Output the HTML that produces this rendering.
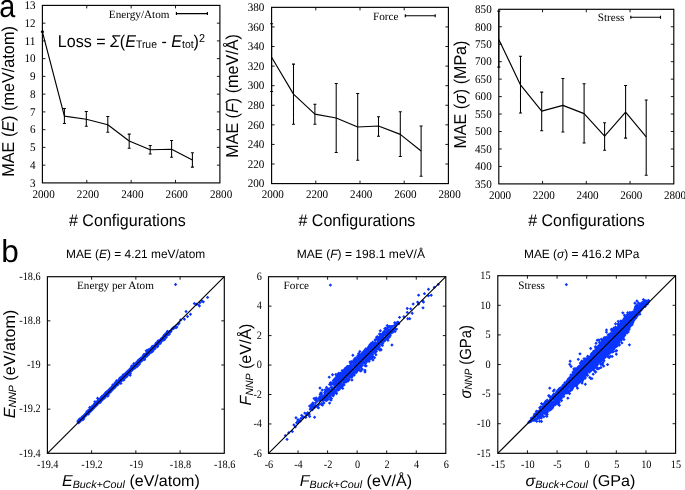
<!DOCTYPE html><html><head><meta charset="utf-8"><style>html,body{margin:0;padding:0;background:#fff;width:685px;height:490px;overflow:hidden}svg{display:block;text-rendering:geometricPrecision;will-change:transform}</style></head><body><svg width="685" height="490" viewBox="0 0 685 490"><path d="M86.78 182.9v-3.0M86.78 5.4v3.0M131.15 182.9v-3.0M131.15 5.4v3.0M175.53 182.9v-3.0M175.53 5.4v3.0M42.4 165.15h3.0M219.9 165.15h-3.0M42.4 147.40h3.0M219.9 147.40h-3.0M42.4 129.65h3.0M219.9 129.65h-3.0M42.4 111.90h3.0M219.9 111.90h-3.0M42.4 94.15h3.0M219.9 94.15h-3.0M42.4 76.40h3.0M219.9 76.40h-3.0M42.4 58.65h3.0M219.9 58.65h-3.0M42.4 40.90h3.0M219.9 40.90h-3.0M42.4 23.15h3.0M219.9 23.15h-3.0" stroke="#000" stroke-width="0.9" fill="none"/><rect x="42.4" y="5.4" width="177.50" height="177.50" fill="none" stroke="#000" stroke-width="1.15"/><text x="35.6" y="186.70" font-family='"Liberation Serif",serif' font-size="11.7" text-anchor="end" textLength="5.56" lengthAdjust="spacingAndGlyphs">3</text><text x="35.6" y="168.95" font-family='"Liberation Serif",serif' font-size="11.7" text-anchor="end" textLength="5.56" lengthAdjust="spacingAndGlyphs">4</text><text x="35.6" y="151.20" font-family='"Liberation Serif",serif' font-size="11.7" text-anchor="end" textLength="5.56" lengthAdjust="spacingAndGlyphs">5</text><text x="35.6" y="133.45" font-family='"Liberation Serif",serif' font-size="11.7" text-anchor="end" textLength="5.56" lengthAdjust="spacingAndGlyphs">6</text><text x="35.6" y="115.70" font-family='"Liberation Serif",serif' font-size="11.7" text-anchor="end" textLength="5.56" lengthAdjust="spacingAndGlyphs">7</text><text x="35.6" y="97.95" font-family='"Liberation Serif",serif' font-size="11.7" text-anchor="end" textLength="5.56" lengthAdjust="spacingAndGlyphs">8</text><text x="35.6" y="80.20" font-family='"Liberation Serif",serif' font-size="11.7" text-anchor="end" textLength="5.56" lengthAdjust="spacingAndGlyphs">9</text><text x="35.6" y="62.45" font-family='"Liberation Serif",serif' font-size="11.7" text-anchor="end" textLength="11.11" lengthAdjust="spacingAndGlyphs">10</text><text x="35.6" y="44.70" font-family='"Liberation Serif",serif' font-size="11.7" text-anchor="end" textLength="11.11" lengthAdjust="spacingAndGlyphs">11</text><text x="35.6" y="26.95" font-family='"Liberation Serif",serif' font-size="11.7" text-anchor="end" textLength="11.11" lengthAdjust="spacingAndGlyphs">12</text><text x="35.6" y="9.20" font-family='"Liberation Serif",serif' font-size="11.7" text-anchor="end" textLength="11.11" lengthAdjust="spacingAndGlyphs">13</text><text x="43.60" y="197.9" font-family='"Liberation Serif",serif' font-size="11.7" text-anchor="middle" textLength="22.23" lengthAdjust="spacingAndGlyphs">2000</text><text x="87.98" y="197.9" font-family='"Liberation Serif",serif' font-size="11.7" text-anchor="middle" textLength="22.23" lengthAdjust="spacingAndGlyphs">2200</text><text x="132.35" y="197.9" font-family='"Liberation Serif",serif' font-size="11.7" text-anchor="middle" textLength="22.23" lengthAdjust="spacingAndGlyphs">2400</text><text x="176.72" y="197.9" font-family='"Liberation Serif",serif' font-size="11.7" text-anchor="middle" textLength="22.23" lengthAdjust="spacingAndGlyphs">2600</text><text x="221.10" y="197.9" font-family='"Liberation Serif",serif' font-size="11.7" text-anchor="middle" textLength="22.23" lengthAdjust="spacingAndGlyphs">2800</text><path d="M42.4 31.8L64.4 116.1L86.3 119.2L107.8 124.7L129.2 141.0L150.2 149.8L171.6 149.2L192.4 160.0" stroke="#000" stroke-width="1.15" fill="none" stroke-linejoin="round"/><path d="M42.4 31.3V32.2M40.9 31.3h3M40.9 32.2h3M64.4 108.4V123.5M62.9 108.4h3M62.9 123.5h3M86.3 111.4V126.3M84.8 111.4h3M84.8 126.3h3M107.8 116.5V132.2M106.3 116.5h3M106.3 132.2h3M129.2 134.1V148.2M127.7 134.1h3M127.7 148.2h3M150.2 145.5V153.9M148.7 145.5h3M148.7 153.9h3M171.6 140.4V157.3M170.1 140.4h3M170.1 157.3h3M192.4 152.7V167.1M190.9 152.7h3M190.9 167.1h3" stroke="#000" stroke-width="1.05" fill="none"/><path d="M176.4 13.6H207.4M176.4 12.1v3M207.4 12.1v3" stroke="#000" stroke-width="1.15" fill="none"/><text x="169.5" y="17.9" font-family='"Liberation Serif",serif' font-size="11.2" text-anchor="end" >Energy/Atom</text><path d="M315.80 183.6v-3.0M315.80 7.35v3.0M360.00 183.6v-3.0M360.00 7.35v3.0M404.20 183.6v-3.0M404.20 7.35v3.0M271.6 164.02h3.0M448.4 164.02h-3.0M271.6 144.43h3.0M448.4 144.43h-3.0M271.6 124.85h3.0M448.4 124.85h-3.0M271.6 105.27h3.0M448.4 105.27h-3.0M271.6 85.68h3.0M448.4 85.68h-3.0M271.6 66.10h3.0M448.4 66.10h-3.0M271.6 46.52h3.0M448.4 46.52h-3.0M271.6 26.93h3.0M448.4 26.93h-3.0" stroke="#000" stroke-width="0.9" fill="none"/><rect x="271.6" y="7.35" width="176.80" height="176.25" fill="none" stroke="#000" stroke-width="1.15"/><text x="264.4" y="187.40" font-family='"Liberation Serif",serif' font-size="11.7" text-anchor="end" textLength="16.67" lengthAdjust="spacingAndGlyphs">200</text><text x="264.4" y="167.82" font-family='"Liberation Serif",serif' font-size="11.7" text-anchor="end" textLength="16.67" lengthAdjust="spacingAndGlyphs">220</text><text x="264.4" y="148.23" font-family='"Liberation Serif",serif' font-size="11.7" text-anchor="end" textLength="16.67" lengthAdjust="spacingAndGlyphs">240</text><text x="264.4" y="128.65" font-family='"Liberation Serif",serif' font-size="11.7" text-anchor="end" textLength="16.67" lengthAdjust="spacingAndGlyphs">260</text><text x="264.4" y="109.07" font-family='"Liberation Serif",serif' font-size="11.7" text-anchor="end" textLength="16.67" lengthAdjust="spacingAndGlyphs">280</text><text x="264.4" y="89.48" font-family='"Liberation Serif",serif' font-size="11.7" text-anchor="end" textLength="16.67" lengthAdjust="spacingAndGlyphs">300</text><text x="264.4" y="69.90" font-family='"Liberation Serif",serif' font-size="11.7" text-anchor="end" textLength="16.67" lengthAdjust="spacingAndGlyphs">320</text><text x="264.4" y="50.32" font-family='"Liberation Serif",serif' font-size="11.7" text-anchor="end" textLength="16.67" lengthAdjust="spacingAndGlyphs">340</text><text x="264.4" y="30.73" font-family='"Liberation Serif",serif' font-size="11.7" text-anchor="end" textLength="16.67" lengthAdjust="spacingAndGlyphs">360</text><text x="264.4" y="11.15" font-family='"Liberation Serif",serif' font-size="11.7" text-anchor="end" textLength="16.67" lengthAdjust="spacingAndGlyphs">380</text><text x="272.80" y="198.3" font-family='"Liberation Serif",serif' font-size="11.7" text-anchor="middle" textLength="22.23" lengthAdjust="spacingAndGlyphs">2000</text><text x="317.00" y="198.3" font-family='"Liberation Serif",serif' font-size="11.7" text-anchor="middle" textLength="22.23" lengthAdjust="spacingAndGlyphs">2200</text><text x="361.20" y="198.3" font-family='"Liberation Serif",serif' font-size="11.7" text-anchor="middle" textLength="22.23" lengthAdjust="spacingAndGlyphs">2400</text><text x="405.40" y="198.3" font-family='"Liberation Serif",serif' font-size="11.7" text-anchor="middle" textLength="22.23" lengthAdjust="spacingAndGlyphs">2600</text><text x="449.60" y="198.3" font-family='"Liberation Serif",serif' font-size="11.7" text-anchor="middle" textLength="22.23" lengthAdjust="spacingAndGlyphs">2800</text><path d="M271.6 57.3L293.5 94.1L314.9 114.1L336.2 118.0L357.7 127.0L378.5 126.0L400.3 134.4L421.1 151.0" stroke="#000" stroke-width="1.15" fill="none" stroke-linejoin="round"/><path d="M271.6 23.7V91.4M270.1 23.7h3M270.1 91.4h3M293.5 64.1V124.3M292.0 64.1h3M292.0 124.3h3M314.9 104.3V124.3M313.4 104.3h3M313.4 124.3h3M336.2 83.5V152.5M334.7 83.5h3M334.7 152.5h3M357.7 93.5V160.3M356.2 93.5h3M356.2 160.3h3M378.5 116.7V136.3M377.0 116.7h3M377.0 136.3h3M400.3 111.8V156.4M398.8 111.8h3M398.8 156.4h3M421.1 126.0V176.3M419.6 126.0h3M419.6 176.3h3" stroke="#000" stroke-width="1.05" fill="none"/><path d="M405.3 15.7H435.2M405.3 14.2v3M435.2 14.2v3" stroke="#000" stroke-width="1.15" fill="none"/><text x="398.4" y="19.8" font-family='"Liberation Serif",serif' font-size="11.2" text-anchor="end" >Force</text><path d="M542.55 183.9v-3.0M542.55 9.3v3.0M586.30 183.9v-3.0M586.30 9.3v3.0M630.05 183.9v-3.0M630.05 9.3v3.0M498.8 166.44h3.0M673.8 166.44h-3.0M498.8 148.98h3.0M673.8 148.98h-3.0M498.8 131.52h3.0M673.8 131.52h-3.0M498.8 114.06h3.0M673.8 114.06h-3.0M498.8 96.60h3.0M673.8 96.60h-3.0M498.8 79.14h3.0M673.8 79.14h-3.0M498.8 61.68h3.0M673.8 61.68h-3.0M498.8 44.22h3.0M673.8 44.22h-3.0M498.8 26.76h3.0M673.8 26.76h-3.0" stroke="#000" stroke-width="0.9" fill="none"/><rect x="498.8" y="9.3" width="175.00" height="174.60" fill="none" stroke="#000" stroke-width="1.15"/><text x="491.7" y="187.70" font-family='"Liberation Serif",serif' font-size="11.7" text-anchor="end" textLength="16.67" lengthAdjust="spacingAndGlyphs">350</text><text x="491.7" y="170.24" font-family='"Liberation Serif",serif' font-size="11.7" text-anchor="end" textLength="16.67" lengthAdjust="spacingAndGlyphs">400</text><text x="491.7" y="152.78" font-family='"Liberation Serif",serif' font-size="11.7" text-anchor="end" textLength="16.67" lengthAdjust="spacingAndGlyphs">450</text><text x="491.7" y="135.32" font-family='"Liberation Serif",serif' font-size="11.7" text-anchor="end" textLength="16.67" lengthAdjust="spacingAndGlyphs">500</text><text x="491.7" y="117.86" font-family='"Liberation Serif",serif' font-size="11.7" text-anchor="end" textLength="16.67" lengthAdjust="spacingAndGlyphs">550</text><text x="491.7" y="100.40" font-family='"Liberation Serif",serif' font-size="11.7" text-anchor="end" textLength="16.67" lengthAdjust="spacingAndGlyphs">600</text><text x="491.7" y="82.94" font-family='"Liberation Serif",serif' font-size="11.7" text-anchor="end" textLength="16.67" lengthAdjust="spacingAndGlyphs">650</text><text x="491.7" y="65.48" font-family='"Liberation Serif",serif' font-size="11.7" text-anchor="end" textLength="16.67" lengthAdjust="spacingAndGlyphs">700</text><text x="491.7" y="48.02" font-family='"Liberation Serif",serif' font-size="11.7" text-anchor="end" textLength="16.67" lengthAdjust="spacingAndGlyphs">750</text><text x="491.7" y="30.56" font-family='"Liberation Serif",serif' font-size="11.7" text-anchor="end" textLength="16.67" lengthAdjust="spacingAndGlyphs">800</text><text x="491.7" y="13.10" font-family='"Liberation Serif",serif' font-size="11.7" text-anchor="end" textLength="16.67" lengthAdjust="spacingAndGlyphs">850</text><text x="500.00" y="198.8" font-family='"Liberation Serif",serif' font-size="11.7" text-anchor="middle" textLength="22.23" lengthAdjust="spacingAndGlyphs">2000</text><text x="543.75" y="198.8" font-family='"Liberation Serif",serif' font-size="11.7" text-anchor="middle" textLength="22.23" lengthAdjust="spacingAndGlyphs">2200</text><text x="587.50" y="198.8" font-family='"Liberation Serif",serif' font-size="11.7" text-anchor="middle" textLength="22.23" lengthAdjust="spacingAndGlyphs">2400</text><text x="631.25" y="198.8" font-family='"Liberation Serif",serif' font-size="11.7" text-anchor="middle" textLength="22.23" lengthAdjust="spacingAndGlyphs">2600</text><text x="675.00" y="198.8" font-family='"Liberation Serif",serif' font-size="11.7" text-anchor="middle" textLength="22.23" lengthAdjust="spacingAndGlyphs">2800</text><path d="M498.8 39.4L520.5 84.9L541.7 111.1L562.9 105.4L584.1 113.6L604.6 136.1L625.6 112.1L646.2 136.9" stroke="#000" stroke-width="1.15" fill="none" stroke-linejoin="round"/><path d="M498.8 11.1V67.1M497.3 11.1h3M497.3 67.1h3M520.5 56.3V113.0M519.0 56.3h3M519.0 113.0h3M541.7 92.1V130.8M540.2 92.1h3M540.2 130.8h3M562.9 78.5V132.0M561.4 78.5h3M561.4 132.0h3M584.1 83.8V143.0M582.6 83.8h3M582.6 143.0h3M604.6 122.7V150.3M603.1 122.7h3M603.1 150.3h3M625.6 85.4V138.1M624.1 85.4h3M624.1 138.1h3M646.2 99.9V175.3M644.7 99.9h3M644.7 175.3h3" stroke="#000" stroke-width="1.05" fill="none"/><path d="M630.8 17.2H660.5M630.8 15.7v3M660.5 15.7v3" stroke="#000" stroke-width="1.15" fill="none"/><text x="624.4" y="21.3" font-family='"Liberation Serif",serif' font-size="11.2" text-anchor="end" >Stress</text><path d="M91.62 453.3v-3.0M91.62 276.7v3.0M135.85 453.3v-3.0M135.85 276.7v3.0M180.08 453.3v-3.0M180.08 276.7v3.0M47.4 409.15h3.0M224.3 409.15h-3.0M47.4 365.00h3.0M224.3 365.00h-3.0M47.4 320.85h3.0M224.3 320.85h-3.0" stroke="#000" stroke-width="0.9" fill="none"/><path transform="rotate(45)" d="M352.8 242.2h0M353.7 243.1h0M353.9 243.2h0M352.9 242.7h0M354.6 243.2h0M353.3 241.8h0M353.4 242.5h0M353.2 242.3h0M354.3 242.4h0M352.5 240.6h0M354.6 242.7h0M353.7 241.4h0M353.2 241.1h0M352.5 240.1h0M354.6 242.0h0M353.1 240.2h0M354.6 241.6h0M353.8 240.7h0M354.6 241.5h0M353.2 239.7h0M354.2 241.2h0M353.1 239.0h0M354.0 239.7h0M353.1 239.3h0M353.1 239.2h0M353.9 239.2h0M354.4 239.4h0M353.8 239.3h0M353.3 238.3h0M354.3 239.1h0M353.1 237.8h0M353.8 238.0h0M353.0 237.3h0M354.3 238.6h0M354.2 238.2h0M353.5 237.0h0M352.9 236.7h0M353.8 237.9h0M354.9 238.9h0M354.1 237.4h0M353.8 237.2h0M353.3 236.2h0M353.2 236.6h0M353.4 236.1h0M353.4 235.8h0M355.5 237.6h0M353.3 235.6h0M353.5 235.5h0M354.8 236.4h0M353.8 235.6h0M354.6 236.4h0M354.2 235.7h0M354.4 235.2h0M353.3 234.2h0M354.3 235.0h0M353.1 233.9h0M354.0 234.2h0M353.1 233.1h0M354.2 234.3h0M354.4 234.6h0M353.9 233.3h0M354.1 233.7h0M354.3 233.8h0M354.1 234.0h0M354.5 234.3h0M353.4 232.3h0M354.0 233.0h0M354.5 233.2h0M353.9 232.5h0M354.4 232.8h0M354.3 232.3h0M353.2 231.6h0M354.0 232.3h0M354.4 232.6h0M352.7 230.2h0M354.1 231.3h0M354.3 231.7h0M353.6 231.4h0M353.0 229.5h0M353.5 230.6h0M352.9 229.6h0M352.5 228.9h0M353.0 230.0h0M354.0 230.1h0M354.3 230.5h0M353.8 229.8h0M352.9 228.7h0M353.6 230.0h0M353.3 228.5h0M354.8 230.2h0M354.0 229.1h0M352.7 228.2h0M353.6 228.7h0M353.1 227.4h0M352.9 227.5h0M352.8 227.2h0M355.4 230.1h0M354.4 228.3h0M354.1 228.3h0M353.0 226.7h0M354.4 228.3h0M351.6 224.7h0M353.8 227.3h0M353.8 227.2h0M354.3 227.5h0M352.8 225.4h0M354.5 226.7h0M353.2 225.4h0M353.5 226.0h0M354.8 227.2h0M352.8 224.7h0M353.8 225.5h0M353.3 225.2h0M353.7 225.2h0M354.4 226.5h0M353.1 224.2h0M354.8 225.8h0M353.1 224.6h0M353.4 224.4h0M354.9 225.5h0M353.7 224.4h0M353.5 223.8h0M354.3 224.8h0M354.0 224.7h0M352.4 222.1h0M352.6 222.5h0M353.4 222.9h0M354.9 224.2h0M353.2 222.6h0M354.5 223.6h0M354.5 223.5h0M354.2 223.4h0M354.2 223.5h0M354.5 223.2h0M354.5 222.7h0M352.9 221.3h0M352.6 221.2h0M353.1 221.6h0M353.6 221.7h0M354.8 222.6h0M353.3 220.9h0M354.0 221.5h0M354.6 222.5h0M353.6 221.0h0M353.0 219.9h0M354.7 221.5h0M354.6 221.2h0M352.8 219.7h0M354.0 220.8h0M353.1 219.1h0M354.7 220.6h0M353.9 219.8h0M352.2 218.4h0M353.7 220.1h0M353.3 218.8h0M353.3 218.4h0M352.7 218.3h0M353.3 218.8h0M354.0 219.3h0M351.2 217.0h0M352.7 217.6h0M352.8 217.8h0M352.7 217.6h0M353.4 217.8h0M353.9 218.3h0M354.8 218.6h0M353.0 217.3h0M353.4 217.5h0M352.8 217.1h0M353.3 217.2h0M354.3 217.6h0M353.2 216.6h0M354.4 218.0h0M354.3 217.7h0M354.9 218.1h0M352.8 215.7h0M353.8 216.1h0M354.2 216.5h0M354.3 216.9h0M352.6 215.5h0M353.8 216.0h0M354.2 216.3h0M354.0 215.9h0M350.6 212.6h0M353.2 214.7h0M354.1 215.5h0M354.2 215.5h0M352.5 213.6h0M354.0 215.1h0M354.4 215.3h0M352.7 213.6h0M354.7 215.3h0M354.2 215.0h0M354.5 214.9h0M353.1 213.7h0M354.0 214.6h0M353.5 214.2h0M353.6 213.2h0M352.9 212.8h0M353.9 213.3h0M354.8 214.4h0M352.8 212.6h0M353.9 213.3h0M353.3 212.4h0M354.2 213.6h0M354.3 213.7h0M352.9 211.8h0M352.8 211.1h0M355.4 213.6h0M354.7 212.7h0M353.3 211.5h0M353.3 211.7h0M353.5 211.5h0M353.5 211.3h0M354.1 212.0h0M352.7 210.1h0M354.4 212.3h0M353.3 211.3h0M355.2 212.8h0M353.5 210.8h0M352.8 209.5h0M355.0 211.8h0M354.5 211.7h0M353.1 209.9h0M353.1 209.3h0M354.3 210.3h0M353.5 209.8h0M354.6 210.6h0M352.3 208.4h0M355.1 210.4h0M353.4 209.0h0M353.6 208.9h0M354.7 210.5h0M353.6 209.4h0M353.3 207.8h0M353.8 208.9h0M352.7 207.3h0M354.0 208.9h0M353.1 208.2h0M353.7 208.7h0M353.3 207.6h0M353.3 207.7h0M353.2 207.1h0M355.0 208.8h0M354.9 209.1h0M355.0 209.3h0M353.5 207.0h0M355.1 208.5h0M352.6 205.9h0M354.6 208.0h0M354.1 207.4h0M354.3 207.2h0M354.6 207.3h0M354.5 207.2h0M353.8 206.8h0M354.5 207.0h0M353.8 206.3h0M354.2 205.9h0M354.6 206.3h0M355.4 207.4h0M354.8 207.0h0M354.7 206.7h0M352.7 204.9h0M352.9 204.2h0M353.7 205.3h0M355.0 206.0h0M353.5 204.7h0M354.0 205.1h0M355.1 206.4h0M353.6 204.4h0M353.4 204.0h0M354.8 205.4h0M354.4 205.2h0M352.3 203.1h0M353.2 203.9h0M354.3 204.4h0M353.6 203.3h0M354.4 204.1h0M353.6 203.7h0M354.2 204.4h0M352.8 202.7h0M353.6 202.9h0M354.4 203.9h0M352.5 201.3h0M354.7 203.8h0M353.9 203.2h0M353.9 203.3h0M354.8 203.0h0M355.3 203.5h0M354.8 203.4h0M355.1 203.2h0M354.6 202.9h0M352.7 201.1h0M356.2 203.9h0M353.1 201.0h0M354.7 202.7h0M352.6 200.6h0M354.9 202.7h0M353.5 200.9h0M353.3 200.6h0M356.0 203.2h0M354.0 200.8h0M353.0 200.3h0M353.4 200.1h0M353.1 200.0h0M354.5 200.8h0M353.5 199.9h0M353.9 200.2h0M353.9 200.4h0M355.3 201.8h0M354.2 200.8h0M354.2 199.8h0M353.9 199.4h0M352.7 198.0h0M353.7 199.1h0M352.6 198.2h0M353.7 199.3h0M355.2 200.5h0M352.9 197.7h0M354.3 199.4h0M354.1 199.1h0M354.4 199.4h0M353.3 198.2h0M355.0 199.4h0M354.6 198.5h0M354.5 198.5h0M353.1 197.2h0M354.8 199.3h0M353.2 197.1h0M354.9 198.6h0M353.5 196.8h0M352.6 196.1h0M353.9 197.1h0M354.8 198.0h0M353.3 196.9h0M354.8 197.3h0M353.0 195.9h0M354.3 196.8h0M355.3 198.3h0M354.5 197.6h0M355.0 197.9h0M352.7 194.7h0M353.1 195.3h0M354.1 196.3h0M354.5 196.8h0M354.3 196.2h0M354.0 195.8h0M354.3 195.5h0M354.8 196.4h0M353.6 195.0h0M353.2 194.5h0M353.3 194.5h0M353.3 194.5h0M353.8 194.7h0M353.8 194.1h0M355.1 195.6h0M354.0 194.7h0M354.3 194.9h0M351.9 192.4h0M353.8 193.8h0M354.6 194.8h0M354.6 194.8h0M355.1 194.9h0M353.1 193.3h0M352.6 192.5h0M354.4 193.5h0M353.9 193.4h0M353.3 192.6h0M355.0 194.1h0M353.4 192.7h0M352.9 192.0h0M354.2 193.1h0M354.2 192.7h0M354.3 193.1h0M354.6 193.4h0M354.9 193.2h0M355.2 193.9h0M354.3 192.2h0M353.8 191.3h0M353.2 190.9h0M353.6 191.2h0M352.7 190.7h0M354.1 192.2h0M352.2 189.6h0M355.1 192.4h0M355.2 192.5h0M353.7 190.7h0M353.5 190.5h0M352.1 189.1h0M352.8 189.3h0M354.1 190.7h0M354.9 191.5h0M353.1 189.8h0M353.8 190.2h0M354.4 190.5h0M353.4 189.4h0M352.6 188.4h0M353.6 189.6h0M353.8 189.3h0M354.9 190.9h0M353.6 189.4h0M352.8 187.9h0M354.7 189.4h0M353.6 188.7h0M353.0 188.2h0M353.4 188.4h0M351.7 186.8h0M354.6 188.7h0M353.1 187.3h0M353.1 187.6h0M353.4 187.4h0M352.7 187.1h0M354.5 189.2h0M353.5 186.9h0M354.5 187.8h0M355.4 188.9h0M354.3 187.7h0M353.6 187.6h0M353.5 187.4h0M353.7 186.7h0M354.4 187.3h0M353.5 186.6h0M354.2 187.1h0M353.9 186.6h0M352.7 185.7h0M354.2 186.7h0M353.3 185.5h0M355.0 187.6h0M354.4 186.6h0M354.3 186.7h0M354.2 186.0h0M353.7 185.0h0M353.7 185.1h0M354.7 186.4h0M352.9 184.1h0M353.6 185.1h0M353.1 184.3h0M352.6 183.2h0M353.2 184.0h0M353.3 184.1h0M352.1 182.9h0M353.5 184.0h0M354.6 185.1h0M353.2 183.2h0M354.3 184.2h0M353.4 183.5h0M354.6 184.5h0M353.5 183.7h0M354.2 184.5h0M354.2 183.9h0M354.7 184.4h0M355.0 184.4h0M353.3 182.4h0M352.7 182.0h0M355.0 184.6h0M355.1 183.9h0M354.6 183.2h0M352.3 180.9h0M353.6 182.1h0M353.1 181.6h0M356.6 185.6h0M354.4 182.2h0M353.0 181.0h0M354.6 182.2h0M353.4 181.6h0M354.7 182.5h0M354.6 182.9h0M354.8 182.2h0M353.7 180.7h0M355.0 182.2h0M353.9 181.0h0M353.1 180.1h0M354.0 181.5h0M354.2 180.9h0M355.2 182.0h0M353.9 180.7h0M352.7 179.4h0M353.8 180.7h0M355.4 182.2h0M353.8 179.3h0M352.7 178.4h0M354.4 180.2h0M355.2 181.0h0M352.1 177.7h0M352.7 178.3h0M353.6 179.0h0M354.0 179.0h0M355.3 180.8h0M354.7 180.2h0M353.9 178.8h0M352.9 177.9h0M355.3 179.4h0M354.0 178.5h0M356.3 181.1h0M353.6 178.3h0M353.0 177.3h0M355.2 179.7h0M354.7 178.7h0M355.2 179.1h0M354.2 177.9h0M353.8 177.8h0M354.5 178.5h0M354.1 177.9h0M353.3 176.5h0M355.6 178.9h0M354.2 177.3h0M353.4 176.2h0M355.1 178.0h0M353.6 176.8h0M352.9 175.5h0M355.1 177.6h0M353.2 175.2h0M355.0 177.2h0M354.5 176.7h0M353.3 175.6h0M353.1 174.7h0M352.7 174.6h0M354.5 176.0h0M355.4 177.3h0M354.7 176.1h0M355.1 176.3h0M353.3 173.8h0M355.9 176.6h0M353.3 174.0h0M355.1 175.6h0M354.9 175.7h0M354.5 175.4h0M354.2 174.3h0M353.3 173.3h0M353.5 173.5h0M355.6 175.6h0M352.9 173.3h0M355.1 175.6h0M353.7 173.5h0M353.0 172.2h0M355.5 174.6h0M355.3 175.0h0M352.8 172.5h0M353.6 173.1h0M354.4 173.0h0M353.0 171.6h0M353.0 171.6h0M353.3 172.3h0M353.4 172.4h0M353.5 172.1h0M354.8 173.1h0M353.1 171.2h0M354.7 172.8h0M354.2 172.4h0M355.5 173.7h0M353.5 171.7h0M353.0 170.4h0M352.8 170.1h0M353.9 171.3h0M354.6 171.7h0M353.8 171.0h0M354.1 171.7h0M355.2 171.6h0M355.9 172.5h0M353.7 170.6h0M355.4 171.9h0M354.3 171.1h0M353.7 170.2h0M354.0 170.1h0M357.4 173.3h0M353.6 169.6h0M354.5 170.3h0M354.5 170.5h0M354.1 170.2h0M353.8 169.1h0M353.1 168.2h0M354.0 169.2h0M353.3 168.3h0M354.0 169.0h0M356.2 171.8h0M353.3 167.9h0M354.9 169.4h0M355.1 169.7h0M354.1 168.9h0M355.1 169.7h0M352.8 167.5h0M352.0 165.9h0M354.6 168.7h0M353.0 167.1h0M353.9 167.7h0M352.7 166.2h0M353.9 168.0h0M353.0 166.1h0M352.4 165.6h0M355.2 168.2h0M353.0 166.4h0M354.1 166.9h0M354.4 167.4h0M355.0 167.4h0M353.5 166.0h0M353.9 166.5h0M353.9 166.3h0M355.1 167.5h0M353.1 165.8h0M353.6 165.5h0M354.8 166.5h0M353.8 165.5h0M354.4 165.8h0M354.4 165.8h0M354.4 166.2h0M354.2 165.3h0M352.9 163.7h0M355.0 166.1h0M353.8 164.8h0M354.6 165.7h0M354.6 165.9h0M353.3 163.3h0M354.9 165.1h0M351.7 162.4h0M355.4 165.6h0M353.3 163.4h0M352.7 163.3h0M355.0 164.2h0M354.9 164.6h0M353.9 163.6h0M354.8 164.7h0M355.1 165.0h0M354.5 164.0h0M354.5 163.0h0M353.9 162.4h0M355.7 164.6h0M353.9 162.8h0M355.7 164.6h0M354.7 163.3h0M354.9 162.8h0M354.4 162.8h0M354.4 162.8h0M354.4 162.5h0M354.4 162.3h0M355.1 163.3h0M353.4 160.8h0M354.1 161.4h0M354.8 162.0h0M354.5 162.0h0M355.2 162.6h0M354.9 162.4h0M353.5 160.4h0M352.9 160.0h0M355.5 162.3h0M353.6 160.1h0M354.3 161.3h0M354.9 161.6h0M356.2 162.0h0M355.5 161.4h0M355.2 161.1h0M353.4 159.3h0M352.7 159.1h0M353.4 159.6h0M353.5 158.9h0M354.6 160.1h0M353.7 158.8h0M354.0 159.3h0M352.8 158.0h0M352.8 158.0h0M354.3 159.0h0M355.4 160.1h0M353.2 157.5h0M353.8 158.6h0M353.9 158.8h0M354.4 158.7h0M355.3 158.9h0M353.8 158.0h0M354.4 158.6h0M355.4 158.9h0M354.3 158.2h0M352.6 156.8h0M354.8 158.0h0M352.9 156.2h0M355.6 158.8h0M353.7 157.2h0M353.9 157.0h0M356.1 159.0h0M354.5 157.3h0M353.2 155.6h0M355.3 157.8h0M353.0 155.2h0M354.9 157.1h0M353.7 155.8h0M353.0 154.7h0M352.9 154.5h0M354.8 156.3h0M352.8 154.7h0M354.4 156.1h0M353.2 154.4h0M355.3 156.5h0M353.5 154.8h0M353.8 154.9h0M354.3 155.3h0M354.9 156.2h0M353.7 154.3h0M354.6 154.8h0M352.9 153.6h0M354.0 154.5h0M353.8 153.8h0M353.8 153.9h0M355.1 154.6h0M354.5 154.3h0M355.2 154.7h0M353.9 153.9h0M354.6 154.6h0M355.3 155.3h0M355.5 154.2h0M354.9 154.1h0M354.0 153.2h0M355.4 154.1h0M353.6 152.6h0M353.8 152.3h0M353.3 151.9h0M353.9 152.4h0M354.3 152.6h0M353.4 151.4h0M352.9 150.6h0M354.8 152.0h0M355.1 152.6h0M354.5 151.8h0M353.3 150.6h0M355.1 152.3h0M352.9 149.6h0M355.0 152.0h0M353.4 150.5h0M354.7 151.3h0M352.8 149.7h0M353.5 150.5h0M354.6 150.9h0M355.4 151.7h0M354.4 150.5h0M355.5 151.7h0M355.6 152.0h0M352.4 148.8h0M354.9 150.5h0M355.7 151.4h0M354.8 150.4h0M356.5 152.0h0M353.2 148.6h0M354.5 149.2h0M353.1 147.7h0M354.7 149.4h0M354.1 148.5h0M354.2 149.2h0M354.5 149.4h0M354.4 148.5h0M354.2 147.9h0M353.5 147.6h0M353.4 147.4h0M355.3 149.5h0M351.4 144.6h0M354.5 147.7h0M353.5 146.6h0M354.3 147.3h0M353.6 147.1h0M354.0 146.4h0M355.7 148.2h0M353.4 145.7h0M354.0 146.4h0M355.5 147.8h0M355.6 147.2h0M351.9 143.6h0M354.0 145.8h0M353.3 145.3h0M354.8 146.4h0M353.2 144.9h0M353.4 144.7h0M355.2 146.3h0M354.0 144.8h0M352.2 143.6h0M353.7 144.7h0M355.4 145.9h0M355.0 145.5h0M354.6 145.2h0M353.0 143.7h0M354.4 145.2h0M354.0 143.7h0M355.7 145.7h0M354.9 144.9h0M352.4 142.0h0M355.0 144.7h0M353.9 142.6h0M354.9 144.2h0M355.0 144.0h0M355.1 144.0h0M354.6 143.5h0M354.3 142.7h0M354.7 142.8h0M354.5 143.0h0M354.1 142.5h0M353.0 141.3h0M355.0 142.5h0M354.3 142.2h0M354.0 142.0h0M355.7 143.4h0M354.6 142.0h0M353.8 140.4h0M355.3 142.4h0M354.1 141.0h0M355.2 141.9h0M354.0 140.8h0M353.8 140.8h0M355.2 141.5h0M355.5 141.8h0M355.5 141.8h0M353.0 138.9h0M355.0 141.1h0M355.3 140.8h0M354.7 140.2h0M356.2 141.7h0M355.5 141.2h0M354.7 140.1h0M354.5 139.4h0M355.7 140.8h0M354.9 139.5h0M353.9 138.8h0M352.6 137.2h0M353.1 138.1h0M353.9 138.2h0M355.2 139.5h0M354.1 138.2h0M354.8 138.9h0M353.9 137.7h0M356.3 140.0h0M355.8 139.3h0M355.2 138.3h0M355.0 138.7h0M354.3 137.6h0M354.5 137.4h0M354.9 137.9h0M355.5 138.5h0M353.4 135.8h0M355.3 138.3h0M355.0 137.2h0M354.9 137.2h0M353.8 135.7h0M354.7 136.8h0M355.3 137.5h0M355.6 136.9h0M354.8 136.3h0M353.8 135.3h0M355.4 136.8h0M354.9 135.9h0M355.3 136.1h0M354.0 134.3h0M356.1 136.8h0M354.9 135.8h0M354.7 135.3h0M354.6 134.2h0M353.3 132.9h0M354.8 135.0h0M355.2 135.0h0M353.8 133.8h0M353.7 133.0h0M353.0 132.3h0M354.4 133.7h0M354.5 133.4h0M355.0 134.3h0M354.0 132.4h0M354.5 133.0h0M353.2 131.7h0M355.1 133.5h0M353.1 131.9h0M353.5 131.2h0M354.0 131.5h0M354.4 132.0h0M353.2 131.1h0M356.3 133.8h0M353.4 130.6h0M353.7 130.7h0M356.5 133.5h0M355.1 132.4h0M354.5 131.6h0M352.8 129.1h0M355.2 131.5h0M355.7 132.2h0M354.3 130.5h0M354.7 131.0h0M354.9 130.9h0M355.2 131.1h0M354.0 129.8h0M355.4 130.9h0M354.3 129.8h0M354.9 130.2h0M354.4 129.7h0M353.8 128.4h0M354.9 129.6h0M355.0 129.9h0M355.4 129.6h0M355.0 129.4h0M353.8 127.7h0M355.7 129.6h0M353.7 128.2h0M356.1 129.4h0M355.1 128.5h0M354.5 128.0h0M354.3 127.9h0M355.9 129.7h0M354.8 127.7h0M354.5 127.0h0M353.8 126.6h0M354.2 127.2h0M355.2 128.3h0M354.6 126.5h0M354.4 126.4h0M353.5 125.4h0M355.6 128.0h0M355.5 127.2h0M354.2 125.5h0M353.9 125.6h0M353.6 125.2h0M354.6 125.5h0M354.7 125.5h0M354.4 125.1h0M354.8 125.9h0M355.4 125.1h0M355.0 125.1h0M354.3 124.4h0M354.8 124.8h0M355.2 125.4h0M354.3 123.5h0M355.5 125.0h0M355.9 125.0h0M353.6 122.7h0M355.6 123.9h0M355.4 123.6h0M354.2 122.5h0M353.2 121.3h0M354.4 122.5h0M354.4 122.2h0M355.5 123.1h0M355.3 122.5h0M356.5 123.8h0M353.1 120.4h0M353.9 121.4h0M355.2 121.5h0M355.2 121.8h0M353.7 119.9h0M355.0 120.9h0M355.6 121.4h0M354.9 120.3h0M354.3 120.3h0M356.1 121.0h0M355.0 119.9h0M355.5 120.9h0M354.7 119.6h0M355.0 119.4h0M353.2 117.9h0M354.7 119.2h0M354.3 117.8h0M355.1 118.6h0M352.7 116.0h0M355.5 118.0h0M353.2 116.0h0M353.5 115.9h0M355.2 117.4h0M354.9 116.3h0M354.5 115.8h0M356.0 116.6h0M354.3 114.4h0M355.3 114.1h0M355.1 113.3h0M354.4 111.7h0M354.2 110.4h0M354.9 109.7h0M354.7 109.0h0M354.5 108.6h0M355.4 108.1h0M355.0 106.3h0M356.2 107.1h0M356.3 106.3h0M355.3 103.2h0M355.1 101.8h0M354.0 98.5h0M356.1 95.3h0M356.4 91.3h0M356.3 75.2h0M355.4 72.6h0M357.1 63.5h0M357.2 69.7h0M355.7 70.0h0M357.4 75.3h0M354.0 76.2h0M352.0 77.2h0M356.9 87.5h0M356.4 91.2h0M351.8 88.7h0M325.3 77.0h0" stroke="#0a34ff" stroke-width="2.4" stroke-linecap="square" fill="none"/><text x="77" y="288.9" font-family='"Liberation Serif",serif' font-size="11.2" text-anchor="start" >Energy per Atom</text><path d="M47.4 453.3L224.3 276.7" stroke="#000" stroke-width="1.15"/><rect x="47.4" y="276.7" width="176.90" height="176.60" fill="none" stroke="#000" stroke-width="1.15"/><text x="40.6" y="456.60" font-family='"Liberation Serif",serif' font-size="11.4" text-anchor="end" textLength="21.37" lengthAdjust="spacingAndGlyphs">-19.4</text><text x="47.80" y="468.2" font-family='"Liberation Serif",serif' font-size="11.4" text-anchor="middle" textLength="21.37" lengthAdjust="spacingAndGlyphs">-19.4</text><text x="40.6" y="412.45" font-family='"Liberation Serif",serif' font-size="11.4" text-anchor="end" textLength="21.37" lengthAdjust="spacingAndGlyphs">-19.2</text><text x="92.03" y="468.2" font-family='"Liberation Serif",serif' font-size="11.4" text-anchor="middle" textLength="21.37" lengthAdjust="spacingAndGlyphs">-19.2</text><text x="40.6" y="368.30" font-family='"Liberation Serif",serif' font-size="11.4" text-anchor="end" textLength="13.68" lengthAdjust="spacingAndGlyphs">-19</text><text x="136.25" y="468.2" font-family='"Liberation Serif",serif' font-size="11.4" text-anchor="middle" textLength="13.68" lengthAdjust="spacingAndGlyphs">-19</text><text x="40.6" y="324.15" font-family='"Liberation Serif",serif' font-size="11.4" text-anchor="end" textLength="21.37" lengthAdjust="spacingAndGlyphs">-18.8</text><text x="180.48" y="468.2" font-family='"Liberation Serif",serif' font-size="11.4" text-anchor="middle" textLength="21.37" lengthAdjust="spacingAndGlyphs">-18.8</text><text x="40.6" y="280.00" font-family='"Liberation Serif",serif' font-size="11.4" text-anchor="end" textLength="21.37" lengthAdjust="spacingAndGlyphs">-18.6</text><text x="224.70" y="468.2" font-family='"Liberation Serif",serif' font-size="11.4" text-anchor="middle" textLength="21.37" lengthAdjust="spacingAndGlyphs">-18.6</text><path d="M298.05 453.4v-3.0M298.05 276.7v3.0M327.60 453.4v-3.0M327.60 276.7v3.0M357.15 453.4v-3.0M357.15 276.7v3.0M386.70 453.4v-3.0M386.70 276.7v3.0M416.25 453.4v-3.0M416.25 276.7v3.0M268.5 423.95h3.0M445.8 423.95h-3.0M268.5 394.50h3.0M445.8 394.50h-3.0M268.5 365.05h3.0M445.8 365.05h-3.0M268.5 335.60h3.0M445.8 335.60h-3.0M268.5 306.15h3.0M445.8 306.15h-3.0" stroke="#000" stroke-width="0.9" fill="none"/><path transform="rotate(45)" d="M508.7 89.2h0M509.3 88.1h0M507.5 86.0h0M509.4 85.5h0M510.0 85.5h0M508.7 83.0h0M507.1 80.4h0M509.0 81.8h0M510.6 78.7h0M511.3 78.9h0M510.1 76.1h0M509.7 75.5h0M509.5 74.3h0M511.3 75.2h0M511.6 74.2h0M506.1 68.2h0M508.7 70.0h0M506.4 66.8h0M507.1 66.9h0M508.0 66.8h0M510.0 68.9h0M510.6 68.8h0M507.0 65.7h0M506.2 63.6h0M508.4 65.6h0M508.7 64.8h0M510.6 66.2h0M509.6 64.6h0M505.6 59.9h0M509.7 64.0h0M508.0 61.8h0M510.6 63.6h0M505.0 57.9h0M506.8 59.0h0M507.5 59.1h0M508.1 59.3h0M512.1 62.8h0M512.6 63.4h0M513.6 63.2h0M507.4 56.4h0M507.2 56.5h0M511.6 60.3h0M507.3 56.1h0M506.6 54.0h0M506.9 54.5h0M505.2 52.4h0M509.7 57.2h0M504.7 51.1h0M509.3 55.5h0M505.1 51.5h0M504.9 50.7h0M513.0 58.7h0M509.6 55.4h0M506.0 51.3h0M508.2 53.3h0M512.8 57.8h0M509.8 54.0h0M503.7 48.0h0M514.5 58.5h0M511.2 54.7h0M508.3 52.2h0M510.2 53.4h0M511.9 54.6h0M511.9 54.9h0M509.7 52.4h0M511.7 54.0h0M514.0 56.0h0M509.4 51.5h0M511.2 52.9h0M511.4 52.9h0M508.8 50.5h0M510.6 52.1h0M509.0 49.5h0M507.1 47.6h0M507.3 48.1h0M505.5 45.7h0M507.9 48.1h0M507.0 46.8h0M509.7 48.8h0M511.3 50.3h0M512.4 51.5h0M509.3 48.4h0M513.9 52.7h0M510.4 49.3h0M512.2 50.5h0M513.5 51.8h0M504.8 43.0h0M511.1 48.7h0M514.1 51.8h0M511.8 49.3h0M511.4 48.5h0M510.2 47.7h0M507.7 44.7h0M510.5 47.7h0M508.8 45.6h0M507.0 43.6h0M514.3 50.9h0M507.3 44.1h0M508.1 43.7h0M512.4 48.5h0M514.3 50.4h0M507.3 43.0h0M509.4 44.3h0M510.1 45.1h0M509.8 44.6h0M510.2 45.1h0M511.5 45.8h0M499.5 33.9h0M508.1 42.6h0M507.8 42.3h0M508.9 42.8h0M511.7 45.7h0M504.9 38.7h0M518.1 52.0h0M514.4 47.7h0M510.3 43.4h0M513.0 46.1h0M511.3 44.5h0M504.3 37.0h0M512.8 45.4h0M506.1 38.1h0M510.8 42.9h0M516.2 48.3h0M515.4 47.6h0M517.0 48.9h0M507.9 39.6h0M511.9 43.4h0M516.2 47.4h0M505.0 36.7h0M505.7 36.5h0M512.5 43.0h0M513.4 44.2h0M511.8 43.0h0M512.3 43.2h0M506.4 36.5h0M512.6 42.6h0M513.2 43.1h0M510.4 40.5h0M514.5 44.7h0M506.7 36.0h0M510.3 40.0h0M506.4 35.8h0M500.1 29.8h0M509.4 38.8h0M510.1 39.1h0M515.2 44.0h0M512.7 41.5h0M504.9 33.6h0M515.5 44.1h0M512.0 39.8h0M506.4 34.2h0M514.2 41.9h0M514.8 43.1h0M505.1 33.4h0M505.5 33.3h0M511.6 39.1h0M510.6 37.8h0M513.7 41.3h0M508.2 35.6h0M513.5 41.0h0M504.7 32.3h0M506.9 33.3h0M510.9 37.5h0M509.0 35.8h0M506.0 32.6h0M512.9 39.2h0M507.8 33.9h0M504.7 30.2h0M513.7 39.8h0M505.9 31.7h0M506.1 31.9h0M511.1 36.2h0M510.1 35.5h0M508.5 34.0h0M502.3 27.4h0M510.8 35.8h0M505.2 29.9h0M515.7 40.0h0M514.3 39.0h0M516.2 40.4h0M504.8 29.4h0M508.2 31.8h0M509.8 33.5h0M513.8 37.8h0M510.1 33.7h0M505.2 29.0h0M508.5 32.1h0M505.5 28.9h0M513.9 37.0h0M511.3 34.3h0M507.7 30.7h0M507.1 30.0h0M509.4 32.8h0M506.2 28.2h0M510.8 33.4h0M510.8 33.2h0M513.6 36.3h0M504.8 26.9h0M512.5 34.3h0M509.3 30.6h0M514.9 36.7h0M506.9 28.7h0M503.4 25.2h0M511.8 33.4h0M511.4 32.6h0M513.2 34.3h0M509.7 30.9h0M513.5 34.1h0M503.6 24.3h0M505.1 26.0h0M510.2 30.5h0M515.2 35.2h0M508.7 29.1h0M506.1 26.3h0M508.9 29.1h0M507.7 27.8h0M509.3 28.9h0M511.0 30.2h0M506.6 26.1h0M507.1 26.4h0M506.8 26.4h0M512.5 32.3h0M511.4 30.1h0M512.2 31.1h0M514.6 33.6h0M506.8 25.6h0M508.7 27.3h0M507.2 26.0h0M514.2 32.5h0M509.6 27.4h0M504.8 23.0h0M505.5 23.6h0M506.0 24.2h0M505.1 23.2h0M508.5 26.2h0M515.2 32.5h0M510.2 27.6h0M514.3 31.8h0M512.1 29.7h0M514.0 31.1h0M513.8 30.1h0M508.1 24.8h0M514.1 30.9h0M510.6 27.6h0M511.3 28.0h0M505.5 22.3h0M510.6 27.2h0M507.2 23.5h0M509.4 25.6h0M510.3 26.3h0M504.0 20.1h0M515.2 31.0h0M507.4 23.3h0M511.1 26.4h0M509.4 24.9h0M510.9 26.2h0M517.0 32.3h0M510.0 25.2h0M505.2 20.1h0M506.5 21.3h0M508.5 23.1h0M504.8 19.7h0M509.9 24.8h0M512.9 27.1h0M506.4 20.7h0M505.8 19.8h0M506.8 20.4h0M509.3 23.2h0M506.7 20.8h0M514.6 28.4h0M505.1 19.2h0M515.4 28.9h0M505.5 18.7h0M505.0 18.1h0M507.1 20.5h0M512.9 26.3h0M511.9 25.1h0M506.0 18.8h0M511.4 23.6h0M511.4 24.1h0M510.7 23.1h0M511.1 23.7h0M513.5 26.0h0M508.9 21.2h0M508.7 20.3h0M510.3 21.9h0M512.9 24.7h0M510.1 22.2h0M509.9 21.9h0M513.5 25.4h0M504.6 16.4h0M507.3 18.6h0M512.7 23.9h0M512.6 23.7h0M506.0 17.3h0M514.0 25.3h0M504.8 15.5h0M512.8 23.0h0M512.9 23.6h0M510.0 20.2h0M507.8 17.9h0M510.2 20.8h0M511.4 21.7h0M513.6 23.1h0M509.6 19.2h0M510.7 19.9h0M505.7 15.3h0M511.1 20.6h0M504.8 14.4h0M512.0 21.1h0M508.0 16.6h0M511.4 20.3h0M511.9 20.7h0M509.4 18.0h0M513.5 22.3h0M504.8 13.8h0M507.6 15.9h0M514.8 23.0h0M515.5 23.4h0M514.0 22.4h0M514.6 23.1h0M511.0 19.1h0M508.6 16.9h0M511.7 19.0h0M505.2 13.0h0M508.1 15.5h0M514.6 22.0h0M511.5 18.8h0M508.4 16.0h0M509.5 16.9h0M512.8 19.6h0M509.0 15.7h0M509.6 16.4h0M510.8 17.6h0M505.8 12.9h0M509.7 16.8h0M506.4 12.5h0M506.1 12.3h0M515.4 21.7h0M512.5 18.4h0M508.6 15.0h0M506.3 12.5h0M506.6 12.3h0M514.3 19.7h0M514.1 19.2h0M511.0 16.0h0M508.1 13.8h0M512.7 18.0h0M509.8 15.5h0M511.8 16.3h0M503.5 8.3h0M507.3 12.0h0M510.8 15.6h0M510.3 15.1h0M512.7 17.2h0M511.5 15.4h0M505.0 8.9h0M506.5 10.7h0M504.8 8.9h0M510.8 14.7h0M506.0 9.8h0M513.1 17.0h0M504.8 8.0h0M513.6 16.6h0M510.4 13.9h0M514.7 18.2h0M511.3 14.2h0M506.7 10.0h0M507.6 11.1h0M507.7 10.1h0M507.1 9.9h0M510.3 12.7h0M504.4 7.1h0M515.1 17.9h0M514.0 16.3h0M509.2 11.7h0M508.4 10.3h0M511.0 13.0h0M513.9 15.8h0M512.3 14.5h0M515.4 17.5h0M511.2 12.9h0M512.8 14.7h0M510.6 11.7h0M500.7 1.7h0M514.5 15.7h0M512.4 13.3h0M508.1 9.2h0M511.1 12.5h0M511.2 12.4h0M515.0 15.3h0M507.9 8.5h0M506.2 6.8h0M510.5 11.2h0M515.0 15.3h0M514.7 15.2h0M512.7 13.0h0M512.6 12.4h0M514.3 13.9h0M513.9 13.9h0M513.0 12.6h0M504.8 4.3h0M511.5 11.3h0M505.3 4.9h0M511.6 10.3h0M507.9 7.3h0M506.1 4.8h0M515.7 14.6h0M513.9 13.1h0M508.6 7.3h0M509.3 8.2h0M513.9 12.1h0M509.4 7.7h0M512.6 10.7h0M508.9 6.9h0M511.1 9.5h0M504.6 2.8h0M511.8 10.0h0M508.4 6.2h0M507.9 5.3h0M513.2 10.9h0M510.3 7.7h0M507.7 5.4h0M504.5 1.9h0M504.7 2.3h0M508.7 5.5h0M507.0 4.2h0M509.8 6.9h0M509.5 6.5h0M511.2 8.0h0M511.3 8.4h0M514.6 11.3h0M510.9 6.8h0M506.8 3.1h0M505.5 1.9h0M514.7 10.8h0M508.3 4.3h0M514.1 10.6h0M515.3 11.7h0M515.2 10.5h0M511.6 7.4h0M512.6 8.4h0M511.3 6.9h0M510.7 6.5h0M508.5 3.7h0M509.7 5.0h0M510.9 5.6h0M507.7 2.8h0M512.9 7.3h0M514.7 9.7h0M511.7 6.7h0M508.4 3.1h0M506.7 1.8h0M508.4 2.8h0M513.4 7.2h0M504.7 -1.0h0M506.1 0.1h0M511.1 5.2h0M514.5 8.7h0M508.0 2.4h0M514.5 7.8h0M505.4 -1.0h0M510.7 4.1h0M510.6 4.1h0M507.0 0.3h0M504.9 -1.8h0M512.4 5.6h0M503.7 -3.5h0M507.7 0.2h0M505.3 -1.9h0M514.1 6.7h0M515.1 7.4h0M508.8 1.4h0M505.4 -1.9h0M509.9 2.2h0M509.3 1.4h0M513.3 5.0h0M510.6 2.7h0M506.6 -1.7h0M512.4 4.4h0M513.4 5.5h0M507.0 -2.1h0M507.3 -1.6h0M503.0 -5.9h0M512.8 4.0h0M509.0 0.5h0M509.9 1.3h0M509.9 1.4h0M506.0 -3.6h0M514.0 4.4h0M512.7 3.1h0M516.9 7.5h0M509.6 0.2h0M511.4 1.8h0M513.5 4.2h0M514.2 4.2h0M510.1 -0.2h0M517.5 7.0h0M514.8 4.8h0M508.1 -2.3h0M511.6 1.1h0M509.9 -0.4h0M505.9 -5.1h0M510.9 0.2h0M505.8 -5.0h0M513.0 2.0h0M510.5 -0.7h0M514.0 2.9h0M512.9 1.9h0M511.4 -0.2h0M510.6 -1.0h0M509.7 -1.6h0M509.5 -2.2h0M509.2 -2.2h0M505.9 -5.9h0M508.4 -3.1h0M514.6 2.6h0M511.3 -1.3h0M508.8 -3.4h0M517.2 4.9h0M505.9 -6.2h0M512.2 -0.1h0M514.1 2.0h0M506.0 -6.9h0M509.8 -2.9h0M510.5 -2.6h0M509.6 -3.1h0M508.5 -4.5h0M508.6 -4.7h0M508.6 -4.2h0M511.9 -1.8h0M505.9 -7.8h0M512.5 -1.0h0M507.7 -5.8h0M507.1 -6.5h0M507.5 -6.3h0M513.6 0.1h0M507.0 -7.7h0M511.0 -3.3h0M510.6 -4.0h0M509.5 -4.6h0M506.4 -7.7h0M508.4 -6.3h0M509.7 -4.4h0M507.6 -7.4h0M510.0 -5.5h0M507.2 -8.3h0M505.6 -9.6h0M514.0 -1.2h0M510.7 -4.7h0M507.2 -8.0h0M519.9 3.8h0M514.8 -1.1h0M506.6 -9.1h0M509.4 -6.5h0M513.9 -2.1h0M508.4 -7.2h0M515.2 -1.3h0M505.8 -11.0h0M509.9 -6.4h0M511.8 -4.7h0M510.9 -5.4h0M515.4 -1.3h0M516.8 0.4h0M513.9 -3.1h0M514.3 -3.2h0M513.4 -4.2h0M508.2 -9.2h0M512.2 -5.2h0M511.1 -6.5h0M505.4 -12.0h0M508.6 -9.5h0M512.7 -5.5h0M515.1 -3.0h0M513.5 -4.5h0M508.2 -9.5h0M517.7 -0.2h0M510.0 -9.0h0M509.5 -9.4h0M514.6 -4.0h0M506.1 -12.5h0M515.1 -3.6h0M506.9 -11.9h0M506.5 -13.0h0M510.6 -8.7h0M513.5 -5.5h0M509.8 -9.5h0M514.0 -5.2h0M512.9 -6.7h0M512.9 -6.4h0M507.6 -12.3h0M508.1 -11.7h0M507.4 -12.9h0M506.3 -13.8h0M514.7 -5.0h0M506.6 -13.5h0M509.3 -11.1h0M508.4 -12.7h0M507.7 -12.8h0M508.3 -12.6h0M512.8 -8.1h0M514.9 -5.6h0M510.5 -10.2h0M509.1 -12.3h0M515.8 -5.7h0M515.7 -5.5h0M515.8 -5.6h0M505.9 -15.7h0M508.4 -13.0h0M511.0 -10.3h0M516.5 -5.5h0M510.2 -12.1h0M514.7 -7.3h0M506.6 -15.3h0M507.6 -14.5h0M515.3 -6.6h0M511.1 -11.5h0M512.5 -10.1h0M510.8 -12.2h0M508.4 -14.8h0M515.6 -7.6h0M511.8 -11.4h0M505.5 -17.3h0M514.3 -8.9h0M515.3 -8.5h0M512.8 -11.0h0M515.3 -8.6h0M511.3 -12.3h0M508.6 -14.7h0M512.1 -11.3h0M509.7 -14.4h0M506.0 -18.5h0M505.2 -19.4h0M509.7 -14.9h0M511.7 -12.8h0M509.0 -15.0h0M510.7 -14.1h0M508.6 -16.2h0M514.9 -10.2h0M512.2 -12.6h0M510.1 -15.1h0M509.7 -15.6h0M514.9 -11.1h0M515.9 -9.5h0M511.5 -14.5h0M514.1 -11.5h0M511.2 -14.5h0M507.7 -17.7h0M505.5 -20.4h0M512.1 -14.3h0M513.3 -13.3h0M510.2 -16.4h0M511.1 -15.3h0M510.7 -15.9h0M508.5 -18.1h0M508.1 -18.2h0M515.5 -11.6h0M509.3 -17.8h0M505.6 -21.5h0M510.4 -16.9h0M505.8 -21.1h0M509.0 -18.3h0M509.8 -18.4h0M512.5 -15.6h0M512.6 -15.5h0M509.8 -17.8h0M512.6 -15.2h0M507.0 -20.9h0M507.0 -21.0h0M512.4 -16.3h0M507.6 -20.6h0M513.0 -15.6h0M507.3 -21.6h0M507.6 -20.7h0M511.1 -17.2h0M510.9 -18.7h0M511.0 -18.3h0M510.1 -19.3h0M508.8 -20.8h0M509.3 -20.2h0M510.6 -18.5h0M517.7 -11.9h0M509.6 -20.5h0M512.0 -17.9h0M511.4 -18.6h0M514.3 -15.7h0M514.3 -15.9h0M512.6 -17.5h0M506.0 -24.8h0M513.0 -17.8h0M507.6 -23.0h0M510.1 -20.7h0M511.4 -19.1h0M510.7 -19.8h0M512.4 -19.1h0M509.2 -22.4h0M512.6 -18.9h0M516.7 -15.0h0M511.2 -20.0h0M511.1 -20.2h0M512.8 -19.3h0M508.9 -23.3h0M511.3 -21.0h0M509.4 -22.4h0M514.6 -17.6h0M509.5 -22.4h0M511.2 -21.4h0M506.0 -26.7h0M510.6 -22.5h0M504.7 -27.9h0M513.5 -19.0h0M511.4 -21.3h0M507.0 -26.8h0M505.0 -28.9h0M510.0 -23.3h0M509.5 -24.0h0M509.9 -23.6h0M509.5 -24.1h0M507.6 -26.9h0M506.7 -27.5h0M510.1 -24.4h0M508.9 -25.4h0M506.0 -27.9h0M511.1 -23.2h0M514.1 -20.9h0M509.0 -26.0h0M511.6 -23.0h0M513.2 -21.9h0M511.7 -23.4h0M513.7 -21.3h0M512.3 -23.6h0M507.5 -27.8h0M510.0 -25.6h0M508.0 -27.6h0M507.7 -27.7h0M507.3 -28.3h0M507.4 -29.3h0M510.9 -25.5h0M506.7 -29.3h0M504.5 -32.1h0M511.9 -24.2h0M513.4 -23.1h0M507.8 -29.1h0M506.9 -30.2h0M516.0 -21.1h0M510.1 -27.0h0M507.7 -29.6h0M512.2 -24.7h0M510.3 -27.2h0M508.6 -28.8h0M506.1 -31.9h0M509.3 -28.5h0M502.8 -35.0h0M510.9 -27.1h0M508.6 -29.7h0M510.4 -28.0h0M508.5 -29.8h0M509.0 -29.4h0M516.2 -22.3h0M505.7 -32.7h0M508.9 -30.3h0M508.1 -30.9h0M507.9 -31.0h0M508.4 -30.5h0M511.7 -27.5h0M511.8 -27.3h0M508.4 -31.1h0M509.5 -30.5h0M507.1 -32.7h0M509.2 -30.7h0M513.6 -26.3h0M512.4 -27.5h0M507.9 -33.0h0M506.3 -34.3h0M508.2 -32.5h0M507.0 -33.2h0M514.7 -26.1h0M513.6 -26.7h0M508.4 -33.1h0M511.7 -29.3h0M509.7 -31.7h0M508.9 -32.2h0M513.4 -27.8h0M509.3 -32.3h0M510.9 -31.4h0M511.2 -31.0h0M508.1 -34.0h0M505.9 -36.4h0M512.3 -29.8h0M511.0 -30.9h0M507.8 -34.7h0M510.5 -32.5h0M509.9 -32.5h0M512.6 -30.5h0M506.5 -36.1h0M512.8 -30.9h0M506.1 -37.5h0M511.7 -31.6h0M508.5 -34.8h0M506.5 -36.6h0M513.1 -31.0h0M512.3 -31.5h0M507.8 -36.0h0M504.5 -39.7h0M511.2 -32.7h0M512.0 -33.2h0M508.8 -35.9h0M508.7 -36.4h0M512.4 -32.7h0M511.5 -33.3h0M512.5 -32.9h0M508.6 -36.6h0M504.8 -40.7h0M511.5 -33.7h0M507.2 -38.5h0M506.1 -40.3h0M511.2 -35.0h0M512.9 -33.6h0M511.4 -34.8h0M508.9 -37.9h0M512.4 -34.9h0M507.2 -39.9h0M512.7 -34.0h0M513.3 -34.4h0M506.0 -41.8h0M504.0 -43.6h0M512.1 -35.5h0M507.0 -40.9h0M510.7 -37.9h0M508.7 -39.6h0M514.9 -33.8h0M513.4 -35.0h0M506.1 -43.1h0M513.0 -36.2h0M508.3 -40.5h0M508.1 -40.9h0M511.3 -38.6h0M508.5 -41.0h0M509.3 -40.2h0M511.4 -38.0h0M511.6 -38.9h0M513.7 -37.0h0M511.0 -39.3h0M506.1 -44.6h0M509.9 -41.6h0M512.4 -39.0h0M513.3 -38.2h0M508.8 -42.3h0M511.0 -40.9h0M509.0 -43.1h0M513.0 -38.8h0M511.9 -40.8h0M509.4 -43.1h0M507.3 -45.2h0M511.2 -42.4h0M509.3 -43.8h0M511.9 -41.4h0M511.3 -42.8h0M507.8 -46.2h0M512.3 -42.1h0M512.4 -42.5h0M511.1 -43.3h0M511.9 -43.6h0M510.9 -44.8h0M508.3 -46.8h0M510.6 -45.3h0M512.1 -43.9h0M512.7 -43.3h0M511.2 -45.7h0M511.2 -45.6h0M511.0 -46.8h0M509.0 -48.9h0M507.3 -50.8h0M511.9 -46.3h0M511.8 -47.0h0M513.8 -45.0h0M510.3 -49.4h0M509.1 -50.7h0M508.5 -51.7h0M513.1 -47.7h0M509.4 -52.4h0M509.1 -53.5h0M509.7 -53.7h0M510.9 -52.9h0M509.8 106.2h0M513.7 107.7h0M510.2 101.8h0M511.8 98.4h0M508.3 92.6h0M510.7 93.0h0M508.3 87.0h0M504.7 86.1h0M509.0 86.3h0M509.3 80.4h0M507.6 76.6h0M509.4 75.5h0M513.5 75.5h0M517.5 72.6h0M503.8 59.6h0M508.3 68.2h0M506.3 64.8h0M506.9 -58.1h0M509.6 -61.6h0M513.7 -63.0h0M515.1 -64.4h0M513.0 -69.9h0M508.9 -67.1h0M506.1 -69.9h0M508.8 -72.0h0M507.1 -77.2h0M508.9 -81.7h0M511.0 -81.0h0M512.0 -86.2h0M513.1 -85.8h0M516.8 -81.4h0M504.7 -87.3h0M507.8 -92.5h0M512.0 -93.8h0M513.7 -96.2h0M507.5 -98.4h0M510.3 -103.9h0M511.0 -108.8h0M511.8 3.8h0M505.6 -24.7h0M513.9 -13.0h0M521.1 4.9h0M518.3 -9.2h0M500.6 48.1h0M504.5 29.3h0M517.6 19.8h0M514.8 25.5h0M508.8 -42.1h0M521.1 -33.2h0M516.9 -21.9h0M435.2 -32.0h0" stroke="#0a34ff" stroke-width="2.4" stroke-linecap="square" fill="none"/><text x="283.6" y="288.7" font-family='"Liberation Serif",serif' font-size="11.2" text-anchor="start" >Force</text><path d="M268.5 453.4L445.8 276.7" stroke="#000" stroke-width="1.15"/><rect x="268.5" y="276.7" width="177.30" height="176.70" fill="none" stroke="#000" stroke-width="1.15"/><text x="262.0" y="456.70" font-family='"Liberation Serif",serif' font-size="11.4" text-anchor="end" textLength="8.55" lengthAdjust="spacingAndGlyphs">-6</text><text x="268.90" y="468.2" font-family='"Liberation Serif",serif' font-size="11.4" text-anchor="middle" textLength="8.55" lengthAdjust="spacingAndGlyphs">-6</text><text x="262.0" y="427.25" font-family='"Liberation Serif",serif' font-size="11.4" text-anchor="end" textLength="8.55" lengthAdjust="spacingAndGlyphs">-4</text><text x="298.45" y="468.2" font-family='"Liberation Serif",serif' font-size="11.4" text-anchor="middle" textLength="8.55" lengthAdjust="spacingAndGlyphs">-4</text><text x="262.0" y="397.80" font-family='"Liberation Serif",serif' font-size="11.4" text-anchor="end" textLength="8.55" lengthAdjust="spacingAndGlyphs">-2</text><text x="328.00" y="468.2" font-family='"Liberation Serif",serif' font-size="11.4" text-anchor="middle" textLength="8.55" lengthAdjust="spacingAndGlyphs">-2</text><text x="262.0" y="368.35" font-family='"Liberation Serif",serif' font-size="11.4" text-anchor="end" textLength="5.13" lengthAdjust="spacingAndGlyphs">0</text><text x="357.55" y="468.2" font-family='"Liberation Serif",serif' font-size="11.4" text-anchor="middle" textLength="5.13" lengthAdjust="spacingAndGlyphs">0</text><text x="262.0" y="338.90" font-family='"Liberation Serif",serif' font-size="11.4" text-anchor="end" textLength="5.13" lengthAdjust="spacingAndGlyphs">2</text><text x="387.10" y="468.2" font-family='"Liberation Serif",serif' font-size="11.4" text-anchor="middle" textLength="5.13" lengthAdjust="spacingAndGlyphs">2</text><text x="262.0" y="309.45" font-family='"Liberation Serif",serif' font-size="11.4" text-anchor="end" textLength="5.13" lengthAdjust="spacingAndGlyphs">4</text><text x="416.65" y="468.2" font-family='"Liberation Serif",serif' font-size="11.4" text-anchor="middle" textLength="5.13" lengthAdjust="spacingAndGlyphs">4</text><text x="262.0" y="280.00" font-family='"Liberation Serif",serif' font-size="11.4" text-anchor="end" textLength="5.13" lengthAdjust="spacingAndGlyphs">6</text><text x="446.20" y="468.2" font-family='"Liberation Serif",serif' font-size="11.4" text-anchor="middle" textLength="5.13" lengthAdjust="spacingAndGlyphs">6</text><path d="M527.43 453.3v-3.0M527.43 275.7v3.0M557.07 453.3v-3.0M557.07 275.7v3.0M586.70 453.3v-3.0M586.70 275.7v3.0M616.33 453.3v-3.0M616.33 275.7v3.0M645.97 453.3v-3.0M645.97 275.7v3.0M497.8 423.70h3.0M675.6 423.70h-3.0M497.8 394.10h3.0M675.6 394.10h-3.0M497.8 364.50h3.0M675.6 364.50h-3.0M497.8 334.90h3.0M675.6 334.90h-3.0M497.8 305.30h3.0M675.6 305.30h-3.0" stroke="#000" stroke-width="0.9" fill="none"/><path transform="rotate(45)" d="M672.5 -75.4h0M672.7 -75.9h0M672.6 -76.6h0M672.5 -78.0h0M673.1 -77.2h0M673.5 -77.2h0M673.0 -77.7h0M671.4 -80.1h0M673.4 -78.6h0M673.3 -78.9h0M672.4 -79.8h0M673.0 -80.5h0M672.5 -80.6h0M673.2 -80.0h0M673.4 -80.4h0M674.1 -79.8h0M671.8 -83.0h0M674.3 -80.3h0M672.0 -83.4h0M672.6 -82.9h0M670.9 -84.9h0M675.2 -80.8h0M672.1 -84.4h0M672.4 -84.0h0M672.4 -84.7h0M673.4 -84.0h0M675.0 -82.4h0M671.5 -86.6h0M671.9 -85.8h0M671.2 -87.0h0M672.9 -85.9h0M677.4 -81.5h0M670.1 -88.5h0M671.1 -88.6h0M673.9 -85.4h0M673.3 -86.3h0M676.1 -84.0h0M671.9 -88.3h0M671.8 -88.2h0M671.3 -89.1h0M671.6 -89.6h0M675.0 -86.2h0M675.3 -85.7h0M671.7 -89.4h0M676.5 -85.2h0M674.5 -86.9h0M673.6 -88.4h0M673.3 -89.1h0M673.0 -89.1h0M672.4 -90.2h0M672.8 -89.8h0M676.0 -86.7h0M677.0 -86.3h0M675.2 -88.0h0M677.0 -85.9h0M670.0 -93.4h0M671.2 -92.8h0M672.4 -91.0h0M676.3 -87.3h0M675.1 -89.7h0M673.5 -90.7h0M674.4 -89.9h0M670.6 -94.7h0M678.3 -87.1h0M673.9 -91.1h0M670.1 -94.8h0M668.3 -97.5h0M673.3 -92.3h0M676.6 -89.3h0M675.3 -90.3h0M674.4 -91.9h0M675.6 -91.2h0M671.2 -95.5h0M677.4 -89.5h0M674.0 -93.2h0M675.3 -92.1h0M674.4 -93.2h0M671.7 -95.6h0M675.7 -91.3h0M676.4 -91.8h0M675.2 -92.5h0M671.3 -96.4h0M671.5 -96.8h0M674.6 -93.1h0M674.9 -93.8h0M673.8 -95.2h0M671.2 -97.3h0M672.7 -95.8h0M670.5 -98.0h0M673.7 -96.0h0M679.3 -89.9h0M674.0 -95.1h0M674.5 -94.8h0M676.4 -93.1h0M670.6 -99.5h0M670.1 -99.8h0M675.2 -95.0h0M675.2 -95.0h0M677.0 -93.2h0M671.8 -98.8h0M676.3 -94.8h0M672.9 -97.9h0M674.4 -96.5h0M670.7 -99.8h0M678.6 -92.9h0M677.5 -94.0h0M670.2 -101.0h0M669.7 -102.0h0M677.4 -94.5h0M677.1 -95.1h0M676.9 -95.4h0M678.0 -94.2h0M673.1 -99.4h0M673.0 -99.1h0M674.2 -98.8h0M674.1 -98.9h0M675.4 -97.7h0M681.1 -92.2h0M671.5 -101.7h0M670.3 -103.4h0M670.0 -103.8h0M677.0 -97.0h0M669.9 -104.0h0M680.0 -93.9h0M678.5 -95.9h0M673.4 -101.0h0M671.8 -102.3h0M672.4 -102.2h0M672.6 -101.5h0M672.0 -103.4h0M674.0 -101.2h0M673.7 -101.2h0M675.0 -99.8h0M677.3 -97.5h0M674.2 -101.6h0M676.8 -99.3h0M672.3 -103.2h0M672.1 -103.4h0M667.8 -108.2h0M673.6 -102.9h0M674.3 -102.1h0M672.9 -103.9h0M674.0 -102.6h0M674.6 -101.7h0M668.4 -108.5h0M672.3 -104.8h0M676.0 -100.8h0M678.5 -98.6h0M674.2 -103.1h0M670.2 -108.0h0M671.9 -105.9h0M678.8 -99.0h0M675.1 -102.8h0M677.6 -100.4h0M675.2 -102.7h0M670.1 -108.6h0M672.7 -106.1h0M678.2 -100.0h0M671.7 -107.0h0M675.3 -103.5h0M673.1 -105.5h0M679.0 -100.3h0M677.4 -102.1h0M672.0 -107.6h0M672.8 -106.4h0M671.7 -107.5h0M673.9 -105.4h0M674.8 -105.5h0M674.8 -104.9h0M677.2 -102.5h0M674.8 -105.1h0M672.6 -107.3h0M671.5 -109.3h0M676.8 -103.7h0M674.5 -106.1h0M679.1 -101.6h0M674.7 -105.8h0M679.1 -101.9h0M672.9 -108.3h0M670.9 -110.7h0M671.7 -110.0h0M675.7 -105.9h0M678.9 -102.5h0M678.4 -103.2h0M675.9 -106.4h0M676.9 -105.0h0M670.6 -111.8h0M672.7 -109.4h0M671.9 -110.6h0M672.0 -110.4h0M670.4 -112.2h0M672.8 -110.2h0M667.8 -114.8h0M678.4 -104.3h0M675.5 -107.3h0M678.0 -104.6h0M672.8 -110.8h0M670.5 -112.9h0M673.6 -109.6h0M671.2 -112.1h0M676.7 -107.0h0M673.4 -110.5h0M671.2 -113.3h0M667.7 -116.2h0M678.1 -106.1h0M674.6 -110.0h0M676.7 -107.5h0M676.4 -108.1h0M672.7 -112.3h0M676.6 -108.2h0M674.9 -109.8h0M671.2 -113.9h0M671.8 -113.3h0M677.2 -107.8h0M678.8 -106.7h0M671.1 -114.9h0M677.8 -108.1h0M678.2 -107.7h0M675.6 -110.3h0M673.8 -111.6h0M675.9 -110.4h0M672.1 -114.2h0M673.4 -113.4h0M676.2 -109.9h0M676.6 -109.9h0M671.7 -114.7h0M674.1 -112.0h0M673.5 -113.8h0M678.5 -108.9h0M670.7 -116.7h0M673.2 -113.5h0M672.8 -114.2h0M676.5 -110.3h0M677.8 -109.7h0M677.7 -110.4h0M675.2 -112.2h0M671.6 -116.2h0M678.6 -108.8h0M676.8 -110.7h0M676.5 -111.6h0M671.4 -116.9h0M673.5 -115.1h0M673.7 -115.0h0M674.9 -113.9h0M676.9 -111.6h0M670.4 -118.4h0M675.3 -114.3h0M675.6 -113.5h0M673.2 -116.1h0M674.0 -115.1h0M680.6 -108.9h0M671.0 -117.9h0M677.6 -112.3h0M674.8 -115.3h0M672.4 -117.4h0M676.1 -114.1h0M676.8 -113.1h0M670.6 -119.3h0M678.0 -111.8h0M672.2 -118.3h0M674.0 -116.3h0M680.0 -110.7h0M677.7 -113.2h0M673.2 -117.1h0M678.5 -111.7h0M678.6 -112.4h0M682.1 -108.9h0M676.2 -114.9h0M670.3 -120.8h0M671.2 -120.0h0M671.0 -120.1h0M673.3 -118.3h0M670.9 -121.4h0M677.1 -114.9h0M677.8 -114.3h0M677.3 -115.0h0M672.6 -119.1h0M674.8 -117.3h0M671.2 -120.7h0M672.9 -119.8h0M671.8 -121.0h0M674.1 -118.6h0M678.2 -114.7h0M671.4 -121.4h0M673.6 -119.0h0M676.8 -116.1h0M673.6 -119.8h0M671.8 -121.9h0M671.2 -122.3h0M673.7 -119.9h0M670.8 -122.4h0M674.5 -118.8h0M676.6 -117.2h0M678.4 -115.5h0M674.1 -119.9h0M676.5 -117.8h0M671.5 -122.7h0M680.1 -113.9h0M675.3 -118.7h0M680.3 -113.7h0M677.5 -117.6h0M674.4 -120.7h0M676.5 -118.4h0M673.9 -121.1h0M672.6 -121.9h0M675.3 -119.7h0M677.8 -117.3h0M676.6 -118.7h0M673.4 -122.0h0M671.3 -124.5h0M674.1 -121.1h0M674.8 -120.7h0M677.6 -117.6h0M677.3 -118.2h0M674.5 -121.6h0M672.1 -124.5h0M673.7 -122.3h0M676.9 -119.2h0M670.9 -125.3h0M677.2 -119.4h0M670.5 -125.6h0M673.0 -124.3h0M676.5 -120.6h0M679.0 -118.3h0M675.6 -121.6h0M675.9 -121.2h0M676.6 -120.4h0M675.5 -121.3h0M674.1 -123.9h0M670.8 -126.9h0M677.2 -120.4h0M676.9 -120.7h0M672.3 -125.7h0M676.6 -120.7h0M677.6 -120.0h0M673.7 -124.8h0M671.5 -127.1h0M673.4 -124.8h0M670.9 -127.6h0M674.1 -124.4h0M672.0 -126.2h0M671.2 -127.0h0M677.3 -122.0h0M676.7 -122.4h0M670.1 -128.9h0M671.4 -127.4h0M671.4 -127.7h0M674.5 -124.9h0M673.6 -125.4h0M677.3 -122.0h0M672.4 -127.8h0M671.4 -128.5h0M673.8 -126.2h0M673.6 -126.3h0M674.1 -125.5h0M676.2 -123.4h0M673.6 -126.4h0M671.1 -128.7h0M672.3 -128.5h0M674.9 -125.9h0M673.4 -127.3h0M677.9 -122.5h0M674.6 -126.2h0M672.9 -127.4h0M673.4 -127.2h0M674.7 -126.2h0M678.0 -123.1h0M676.8 -124.1h0M678.4 -122.9h0M670.8 -130.4h0M675.0 -126.6h0M676.3 -125.0h0M671.2 -130.1h0M678.6 -123.1h0M675.9 -125.8h0M672.1 -129.8h0M678.8 -123.1h0M673.2 -129.0h0M675.2 -126.7h0M675.8 -126.3h0M672.3 -129.8h0M671.7 -131.0h0M674.2 -128.2h0M670.3 -132.1h0M677.6 -125.4h0M671.1 -131.4h0M670.6 -131.9h0M671.0 -131.7h0M678.6 -123.9h0M677.6 -125.5h0M683.1 -120.0h0M675.2 -128.1h0M674.9 -128.1h0M673.7 -129.5h0M677.4 -125.7h0M675.0 -128.7h0M672.8 -130.2h0M673.5 -130.8h0M670.1 -134.0h0M669.9 -134.0h0M676.1 -128.3h0M675.0 -129.0h0M678.7 -125.6h0M675.3 -129.1h0M679.4 -125.0h0M673.4 -131.4h0M679.3 -125.6h0M675.0 -129.7h0M671.7 -133.2h0M672.9 -132.1h0M674.2 -130.6h0M675.9 -128.9h0M676.3 -128.2h0M674.0 -131.8h0M670.1 -135.5h0M669.8 -135.5h0M674.5 -130.8h0M670.4 -135.0h0M681.1 -124.4h0M672.2 -133.1h0M670.3 -135.1h0M672.3 -133.1h0M679.0 -126.9h0M676.6 -129.5h0M672.6 -133.3h0M679.1 -126.9h0M671.2 -134.9h0M674.6 -131.9h0M672.8 -133.2h0M679.5 -126.5h0M672.1 -134.7h0M670.7 -136.3h0M676.8 -130.3h0M677.4 -129.8h0M679.2 -127.9h0M672.5 -134.1h0M677.1 -130.1h0M676.9 -130.1h0M672.1 -135.0h0M676.2 -131.1h0M668.8 -138.5h0M673.0 -134.3h0M675.3 -132.4h0M672.4 -135.4h0M670.4 -137.6h0M679.0 -128.3h0M673.6 -134.4h0M675.7 -131.7h0M677.8 -130.8h0M677.6 -130.8h0M677.4 -130.6h0M674.4 -133.7h0M670.7 -137.4h0M673.6 -134.5h0M670.9 -137.3h0M672.3 -136.0h0M677.6 -130.4h0M677.5 -131.7h0M671.1 -138.1h0M680.0 -128.8h0M677.7 -131.5h0M672.9 -136.1h0M677.0 -132.1h0M672.2 -136.7h0M679.4 -129.6h0M673.8 -134.9h0M676.6 -132.5h0M669.6 -139.9h0M679.3 -130.8h0M672.9 -137.0h0M670.2 -139.6h0M675.6 -134.0h0M676.1 -133.8h0M675.9 -134.1h0M679.1 -130.3h0M672.5 -137.4h0M669.7 -140.3h0M678.7 -131.6h0M674.9 -135.3h0M674.0 -136.2h0M668.2 -142.5h0M677.5 -133.2h0M675.5 -134.6h0M668.8 -141.8h0M675.3 -134.9h0M671.5 -138.9h0M676.0 -134.9h0M671.9 -139.3h0M670.1 -140.7h0M677.0 -134.4h0M678.0 -133.2h0M674.9 -136.2h0M675.9 -135.0h0M674.4 -136.4h0M675.2 -136.1h0M670.7 -141.1h0M673.8 -138.3h0M666.7 -144.9h0M673.0 -138.7h0M674.0 -137.6h0M671.1 -140.4h0M678.8 -133.1h0M666.7 -145.3h0M672.0 -140.1h0M671.9 -140.6h0M675.2 -137.1h0M674.3 -138.2h0M676.1 -136.6h0M673.6 -139.1h0M668.9 -143.4h0M676.1 -136.2h0M678.9 -133.3h0M673.1 -139.3h0M676.2 -136.3h0M677.1 -135.8h0M674.4 -139.1h0M675.4 -137.6h0M671.5 -142.0h0M672.4 -141.0h0M671.7 -141.5h0M673.6 -139.9h0M674.0 -139.5h0M673.0 -140.1h0M678.0 -136.0h0M673.4 -140.4h0M679.0 -135.2h0M669.0 -144.7h0M676.2 -137.6h0M670.4 -143.3h0M667.8 -146.3h0M674.2 -139.8h0M670.4 -143.3h0M675.3 -138.8h0M676.5 -137.9h0M670.9 -144.0h0M677.7 -136.9h0M673.4 -141.1h0M676.1 -138.8h0M676.0 -138.4h0M671.9 -142.8h0M677.4 -137.5h0M671.9 -143.0h0M680.3 -134.7h0M680.2 -135.3h0M674.4 -141.0h0M673.6 -141.7h0M670.9 -144.5h0M674.9 -140.7h0M670.6 -144.8h0M680.1 -135.2h0M672.0 -143.0h0M680.6 -134.5h0M669.7 -145.6h0M679.2 -136.6h0M676.4 -139.7h0M679.6 -136.6h0M677.7 -138.6h0M679.7 -136.2h0M677.6 -138.6h0M676.4 -139.9h0M678.1 -138.3h0M672.9 -143.2h0M670.7 -145.6h0M668.4 -148.3h0M672.3 -144.5h0M676.0 -140.7h0M674.8 -141.6h0M675.5 -141.2h0M675.6 -141.5h0M675.3 -141.6h0M676.6 -140.1h0M682.9 -133.9h0M678.3 -138.3h0M678.7 -138.7h0M671.0 -146.4h0M669.1 -148.2h0M679.1 -138.6h0M672.7 -145.1h0M673.7 -144.1h0M669.6 -147.8h0M663.0 -154.8h0M675.8 -142.0h0M679.0 -138.3h0M670.4 -147.6h0M669.2 -148.7h0M672.8 -145.1h0M674.7 -143.4h0M679.9 -138.0h0M668.4 -149.5h0M677.3 -141.1h0M674.0 -144.3h0M672.7 -145.7h0M674.0 -144.2h0M672.6 -146.0h0M675.3 -143.6h0M675.3 -143.5h0M672.5 -146.5h0M677.8 -141.3h0M674.5 -144.6h0M671.9 -146.9h0M670.4 -148.4h0M674.8 -144.3h0M668.5 -150.5h0M670.4 -148.6h0M671.4 -148.5h0M672.1 -147.3h0M680.0 -139.4h0M671.2 -148.6h0M675.9 -143.7h0M674.8 -144.7h0M671.3 -148.1h0M676.1 -143.6h0M670.5 -149.2h0M673.0 -146.7h0M675.5 -143.9h0M676.6 -143.6h0M677.0 -143.5h0M679.6 -140.4h0M669.0 -151.1h0M670.5 -150.1h0M677.9 -142.4h0M675.5 -144.8h0M671.5 -148.8h0M670.6 -149.5h0M672.6 -148.0h0M671.3 -148.8h0M674.0 -146.3h0M674.4 -146.6h0M667.1 -154.0h0M670.8 -150.1h0M671.8 -149.4h0M676.8 -144.4h0M679.8 -141.2h0M669.9 -151.4h0M679.8 -141.3h0M669.0 -151.9h0M669.3 -151.7h0M667.3 -153.5h0M672.5 -149.5h0M673.8 -148.0h0M669.5 -152.0h0M673.7 -148.1h0M670.8 -151.3h0M678.2 -143.2h0M670.7 -151.0h0M679.8 -142.1h0M670.8 -150.6h0M679.4 -142.4h0M676.6 -145.2h0M676.7 -145.9h0M676.5 -145.7h0M675.3 -147.0h0M676.8 -145.5h0M678.0 -144.5h0M676.3 -146.1h0M671.0 -151.8h0M676.2 -146.0h0M678.2 -144.5h0M672.3 -150.0h0M668.4 -154.3h0M671.9 -150.6h0M677.0 -146.1h0M679.5 -143.6h0M676.9 -146.0h0M682.4 -140.7h0M672.8 -150.3h0M674.0 -148.9h0M666.7 -156.2h0M669.3 -153.7h0M671.5 -151.5h0M677.0 -146.0h0M673.8 -149.1h0M673.6 -149.7h0M678.7 -144.8h0M669.5 -154.1h0M673.8 -150.0h0M671.5 -152.6h0M675.6 -148.3h0M671.4 -152.4h0M681.2 -142.5h0M673.3 -150.2h0M674.4 -149.8h0M676.9 -147.2h0M675.0 -149.2h0M674.8 -148.8h0M678.0 -146.0h0M668.8 -155.9h0M671.0 -153.8h0M671.5 -153.0h0M680.6 -143.8h0M669.6 -155.2h0M672.0 -152.3h0M678.5 -145.9h0M670.5 -154.0h0M676.7 -148.2h0M671.4 -153.2h0M675.3 -148.9h0M674.7 -149.8h0M675.2 -149.4h0M669.1 -156.0h0M670.8 -154.5h0M668.6 -156.8h0M675.2 -149.9h0M677.8 -147.8h0M677.9 -147.4h0M674.5 -150.5h0M668.8 -156.8h0M670.6 -154.4h0M668.4 -156.8h0M675.7 -149.3h0M678.4 -147.1h0M675.5 -149.8h0M672.0 -154.1h0M671.1 -154.9h0M671.9 -153.9h0M679.7 -146.4h0M672.2 -154.0h0M677.5 -148.3h0M675.0 -150.8h0M666.7 -159.3h0M669.7 -156.0h0M678.2 -147.5h0M677.7 -148.0h0M675.8 -150.5h0M673.3 -152.8h0M671.1 -155.3h0M676.8 -149.6h0M671.6 -155.0h0M679.4 -147.2h0M674.2 -152.2h0M674.6 -152.0h0M680.2 -146.2h0M674.6 -151.9h0M673.8 -152.9h0M672.9 -154.0h0M671.7 -155.2h0M673.6 -152.8h0M677.8 -148.6h0M672.4 -155.0h0M676.7 -150.7h0M668.8 -158.8h0M678.2 -149.1h0M676.1 -151.6h0M671.1 -156.3h0M677.6 -149.8h0M673.4 -153.8h0M674.2 -152.9h0M680.6 -147.1h0M673.6 -154.2h0M676.4 -150.9h0M677.8 -149.7h0M681.2 -146.3h0M674.1 -153.8h0M677.5 -150.4h0M674.6 -153.2h0M679.4 -148.5h0M670.2 -158.2h0M668.0 -160.3h0M674.7 -153.1h0M675.5 -152.9h0M685.6 -142.2h0M669.7 -158.6h0M676.5 -151.9h0M668.2 -160.1h0M670.0 -158.3h0M672.2 -156.9h0M671.5 -157.3h0M669.6 -159.5h0M674.3 -154.3h0M675.8 -153.3h0M673.2 -155.8h0M672.1 -156.8h0M671.0 -157.6h0M672.5 -156.5h0M675.5 -153.3h0M672.0 -157.0h0M675.1 -154.0h0M679.0 -150.0h0M673.8 -154.7h0M672.7 -157.0h0M677.5 -151.7h0M669.8 -160.0h0M678.6 -150.7h0M677.6 -151.8h0M674.2 -155.5h0M673.1 -156.2h0M668.5 -160.7h0M672.7 -157.2h0M674.8 -154.9h0M673.7 -155.5h0M668.8 -160.9h0M668.7 -160.9h0M673.2 -156.0h0M671.7 -158.7h0M679.5 -150.7h0M679.3 -150.8h0M673.8 -156.4h0M676.3 -154.2h0M679.1 -151.0h0M673.2 -156.9h0M677.6 -152.8h0M677.7 -152.8h0M670.7 -159.2h0M677.4 -152.6h0M675.0 -155.4h0M671.6 -158.7h0M677.1 -152.8h0M680.9 -150.0h0M676.0 -154.7h0M677.4 -153.2h0M671.8 -159.0h0M672.4 -158.7h0M673.4 -157.7h0M671.6 -159.0h0M673.9 -157.0h0M673.1 -157.5h0M667.5 -163.6h0M673.7 -156.9h0M675.0 -156.0h0M667.8 -163.5h0M675.4 -155.8h0M672.9 -158.8h0M669.1 -162.3h0M673.1 -158.6h0M674.4 -157.0h0M673.1 -158.3h0M673.6 -157.8h0M677.1 -154.8h0M676.6 -155.2h0M668.4 -163.3h0M676.1 -155.4h0M676.8 -154.6h0M676.4 -154.9h0M673.1 -158.5h0M678.3 -153.2h0M673.8 -158.8h0M671.7 -160.3h0M673.3 -159.3h0M677.8 -154.6h0M675.5 -156.7h0M674.7 -157.9h0M670.6 -161.7h0M676.3 -156.0h0M674.3 -157.9h0M676.8 -155.3h0M668.9 -163.7h0M673.7 -158.6h0M670.4 -161.7h0M676.1 -155.9h0M672.5 -160.9h0M674.3 -158.5h0M669.0 -163.7h0M670.5 -162.5h0M676.6 -156.3h0M674.0 -159.1h0M674.4 -158.5h0M674.5 -158.6h0M670.8 -162.4h0M673.7 -159.2h0M669.7 -163.6h0M673.3 -159.7h0M669.4 -163.3h0M674.4 -158.9h0M673.8 -159.8h0M672.9 -160.7h0M673.6 -159.9h0M672.7 -161.3h0M673.8 -160.0h0M673.6 -160.5h0M674.5 -159.0h0M675.4 -158.2h0M675.5 -158.2h0M674.2 -159.9h0M671.4 -162.2h0M680.0 -153.9h0M675.9 -157.6h0M672.3 -161.2h0M679.7 -155.0h0M677.9 -156.4h0M673.7 -160.4h0M673.9 -160.9h0M672.8 -161.8h0M677.5 -156.7h0M675.5 -158.7h0M679.4 -155.2h0M677.5 -156.9h0M674.6 -159.6h0M676.0 -158.5h0M674.9 -159.7h0M675.5 -159.3h0M673.1 -161.3h0M669.5 -165.5h0M678.6 -156.9h0M673.3 -161.9h0M672.7 -162.4h0M685.1 -150.0h0M673.8 -161.6h0M679.0 -156.3h0M672.2 -163.3h0M677.2 -158.3h0M674.1 -161.3h0M679.7 -155.4h0M679.5 -155.4h0M675.1 -160.0h0M673.2 -162.3h0M670.8 -165.0h0M677.3 -158.9h0M678.2 -157.7h0M676.7 -159.0h0M675.6 -160.4h0M673.6 -162.1h0M671.6 -164.3h0M676.4 -159.7h0M673.7 -162.0h0M675.4 -160.7h0M668.9 -167.3h0M674.9 -160.9h0M679.9 -155.7h0M675.4 -160.1h0M680.0 -156.3h0M678.0 -158.8h0M676.1 -160.5h0M672.6 -164.2h0M669.6 -167.0h0M675.7 -161.0h0M671.3 -165.2h0M676.1 -160.7h0M676.3 -160.5h0M675.3 -161.0h0M669.9 -166.7h0M674.8 -161.6h0M670.6 -166.2h0M668.4 -168.2h0M672.8 -164.4h0M669.2 -168.1h0M674.2 -163.3h0M670.9 -166.8h0M678.9 -158.4h0M671.3 -165.9h0M676.0 -161.2h0M670.9 -166.5h0M679.3 -157.7h0M679.9 -157.3h0M675.0 -162.1h0M686.2 -150.8h0M669.3 -167.8h0M670.5 -166.8h0M677.3 -160.6h0M671.3 -166.5h0M675.5 -162.2h0M679.4 -158.6h0M673.0 -165.1h0M678.7 -159.6h0M671.3 -166.6h0M672.0 -166.1h0M678.2 -159.8h0M679.2 -158.5h0M670.9 -167.3h0M671.0 -166.9h0M680.0 -157.9h0M676.2 -161.6h0M684.0 -154.9h0M674.1 -164.9h0M668.8 -169.5h0M669.0 -169.6h0M668.8 -169.6h0M678.3 -160.2h0M678.8 -159.9h0M668.7 -169.8h0M675.3 -163.7h0M680.0 -158.7h0M670.2 -168.5h0M673.4 -165.1h0M674.2 -164.4h0M680.2 -158.3h0M671.3 -168.2h0M668.1 -171.2h0M679.3 -160.2h0M668.7 -171.0h0M678.8 -160.8h0M674.7 -164.7h0M674.0 -165.3h0M674.9 -164.5h0M678.6 -161.0h0M672.6 -166.5h0M678.0 -161.1h0M677.7 -161.7h0M670.5 -169.2h0M672.8 -166.5h0M682.1 -158.2h0M673.3 -166.9h0M669.3 -170.5h0M672.9 -167.0h0M674.8 -165.5h0M670.8 -169.4h0M675.8 -164.3h0M674.2 -165.6h0M679.9 -160.4h0M671.8 -168.5h0M673.9 -166.1h0M680.4 -159.4h0M673.0 -166.7h0M671.6 -168.9h0M674.2 -166.7h0M679.2 -161.7h0M678.2 -162.9h0M677.3 -163.8h0M672.8 -168.1h0M678.6 -162.5h0M670.3 -170.4h0M679.4 -161.4h0M679.4 -161.3h0M674.3 -166.7h0M669.7 -171.1h0M677.6 -163.1h0M668.6 -172.0h0M679.1 -161.9h0M670.5 -171.0h0M669.6 -171.6h0M669.2 -172.0h0M671.8 -169.6h0M675.2 -166.1h0M672.2 -169.3h0M673.3 -168.0h0M680.4 -160.9h0M675.6 -165.7h0M670.7 -170.5h0M672.1 -169.2h0M678.3 -163.1h0M671.7 -169.7h0M675.2 -166.3h0M666.2 -175.7h0M684.3 -158.2h0M684.1 -158.0h0M674.6 -167.6h0M679.1 -163.0h0M670.9 -171.7h0M669.2 -173.0h0M676.9 -165.4h0M669.7 -172.2h0M678.8 -163.3h0M666.2 -176.0h0M674.9 -167.6h0M675.2 -166.7h0M669.6 -173.0h0M673.3 -169.4h0M677.4 -165.6h0M668.7 -174.2h0M671.6 -171.5h0M669.5 -173.8h0M664.2 -178.7h0M671.1 -171.7h0M673.1 -170.2h0M676.3 -166.8h0M674.1 -168.7h0M679.3 -163.8h0M672.7 -170.0h0M671.7 -171.0h0M667.4 -175.2h0M669.8 -173.6h0M676.8 -167.1h0M669.7 -173.7h0M668.6 -175.3h0M677.7 -165.9h0M671.7 -171.6h0M681.3 -162.0h0M675.9 -167.9h0M668.5 -174.9h0M671.3 -172.5h0M672.8 -170.5h0M674.6 -168.9h0M681.8 -162.0h0M674.7 -169.1h0M672.1 -172.4h0M679.4 -165.3h0M680.0 -164.1h0M678.1 -166.3h0M674.3 -169.8h0M679.6 -165.1h0M679.0 -165.6h0M669.5 -175.0h0M671.8 -172.6h0M676.7 -167.7h0M673.5 -170.7h0M680.7 -163.3h0M682.6 -161.4h0M673.3 -171.1h0M669.7 -175.3h0M672.7 -172.5h0M674.5 -170.4h0M667.8 -177.7h0M678.7 -166.6h0M675.3 -169.7h0M670.8 -174.3h0M672.8 -172.3h0M678.4 -166.5h0M675.9 -169.2h0M671.2 -174.0h0M673.3 -171.5h0M680.2 -165.1h0M676.1 -168.9h0M671.5 -174.1h0M678.5 -167.3h0M669.4 -176.5h0M678.4 -167.7h0M669.9 -175.8h0M672.4 -173.5h0M671.9 -174.2h0M675.3 -170.6h0M669.4 -176.2h0M672.3 -173.4h0M676.7 -169.3h0M669.2 -176.4h0M673.1 -172.5h0M671.4 -174.7h0M673.1 -173.2h0M670.9 -175.4h0M674.9 -171.6h0M669.3 -177.1h0M676.3 -170.4h0M670.0 -176.2h0M677.2 -169.0h0M672.8 -173.4h0M676.6 -169.8h0M674.8 -171.9h0M674.6 -171.8h0M675.3 -171.6h0M678.1 -168.0h0M675.5 -170.9h0M678.4 -168.6h0M671.6 -175.5h0M663.9 -183.0h0M679.4 -168.0h0M669.3 -177.9h0M674.6 -172.3h0M668.9 -178.4h0M676.3 -170.7h0M684.1 -163.0h0M671.1 -176.4h0M677.9 -169.5h0M668.9 -178.6h0M668.0 -179.4h0M671.4 -175.7h0M678.6 -169.2h0M675.0 -173.2h0M674.8 -172.8h0M676.2 -171.9h0M667.6 -180.7h0M668.8 -179.0h0M680.4 -167.8h0M668.7 -178.8h0M676.9 -171.4h0M676.6 -171.7h0M666.0 -181.8h0M675.4 -172.2h0M671.4 -176.7h0M676.5 -171.3h0M678.0 -170.9h0M676.1 -172.2h0M669.4 -179.2h0M668.4 -179.9h0M669.5 -179.1h0M675.0 -173.6h0M676.5 -172.0h0M669.8 -178.7h0M674.6 -173.8h0M676.4 -171.9h0M671.9 -176.4h0M669.2 -179.3h0M669.2 -179.1h0M669.2 -179.2h0M670.1 -179.2h0M671.1 -178.1h0M673.3 -176.2h0M667.9 -181.2h0M670.0 -179.1h0M678.9 -170.1h0M680.4 -169.2h0M678.2 -171.4h0M677.0 -172.1h0M669.8 -179.4h0M667.3 -182.4h0M678.1 -171.3h0M679.5 -170.1h0M679.1 -170.1h0M678.0 -171.8h0M684.8 -165.0h0M679.4 -170.9h0M682.7 -167.3h0M667.3 -183.0h0M673.7 -176.2h0M667.2 -182.5h0M671.1 -178.7h0M669.6 -180.3h0M670.0 -179.9h0M680.3 -169.7h0M668.0 -182.0h0M665.0 -185.2h0M672.7 -177.2h0M667.9 -183.0h0M673.3 -177.6h0M675.0 -175.5h0M677.8 -173.2h0M668.5 -182.3h0M672.3 -178.5h0M680.3 -170.6h0M669.4 -181.5h0M676.3 -174.6h0M677.6 -172.8h0M676.2 -174.4h0M669.8 -180.8h0M679.6 -171.3h0M670.7 -179.8h0M667.3 -183.8h0M674.6 -176.6h0M672.2 -179.5h0M678.5 -173.2h0M670.1 -181.1h0M680.4 -170.9h0M670.9 -180.7h0M683.4 -168.2h0M672.1 -179.0h0M671.2 -179.9h0M669.9 -181.3h0M674.2 -177.2h0M668.4 -183.3h0M680.1 -171.1h0M675.0 -177.1h0M674.2 -177.7h0M679.2 -173.1h0M675.1 -177.0h0M669.3 -182.9h0M666.7 -185.4h0M673.7 -178.8h0M673.1 -179.1h0M669.5 -182.6h0M672.7 -179.5h0M675.5 -177.0h0M668.8 -183.7h0M670.1 -181.6h0M679.3 -172.8h0M670.3 -182.6h0M680.1 -172.6h0M671.9 -181.2h0M674.4 -178.1h0M680.3 -172.2h0M678.8 -173.9h0M682.9 -169.7h0M678.2 -174.5h0M675.2 -177.5h0M674.5 -178.1h0M672.0 -180.7h0M666.6 -185.9h0M677.9 -175.2h0M667.2 -185.7h0M677.4 -175.8h0M668.9 -185.0h0M681.6 -172.1h0M675.1 -178.2h0M674.9 -178.7h0M670.6 -183.2h0M672.9 -180.5h0M679.5 -174.3h0M672.9 -180.8h0M685.7 -168.0h0M673.1 -180.5h0M679.2 -174.2h0M668.4 -185.0h0M678.1 -175.6h0M666.4 -187.7h0M668.6 -185.4h0M672.6 -181.4h0M667.7 -186.6h0M675.3 -178.7h0M682.2 -171.9h0M670.7 -183.4h0M675.3 -179.2h0M671.6 -183.0h0M667.4 -186.7h0M674.4 -179.7h0M675.7 -178.9h0M671.7 -182.3h0M673.1 -181.5h0M674.4 -180.8h0M666.0 -188.6h0M667.3 -187.9h0M679.3 -175.9h0M674.4 -180.5h0M675.0 -179.9h0M668.3 -186.7h0M679.2 -175.9h0M671.1 -184.1h0M671.3 -183.6h0M674.1 -180.5h0M680.3 -174.9h0M679.7 -175.1h0M679.7 -175.3h0M672.6 -182.8h0M667.5 -187.8h0M678.0 -177.9h0M671.0 -184.9h0M677.1 -178.3h0M680.6 -174.7h0M673.0 -182.5h0M670.9 -184.6h0M673.9 -181.9h0M675.8 -180.0h0M669.7 -186.3h0M669.2 -186.5h0M679.2 -176.2h0M669.0 -186.7h0M675.8 -180.5h0M671.9 -184.2h0M670.8 -185.2h0M671.5 -185.1h0M671.4 -185.3h0M667.5 -189.1h0M674.2 -181.9h0M670.3 -186.1h0M669.7 -186.4h0M675.2 -181.2h0M676.1 -180.5h0M670.2 -186.2h0M673.3 -182.8h0M674.2 -182.1h0M672.9 -184.0h0M671.6 -185.4h0M672.2 -185.0h0M668.7 -188.6h0M674.4 -182.7h0M678.1 -178.6h0M679.2 -177.9h0M670.4 -186.5h0M667.1 -190.2h0M668.3 -188.7h0M675.3 -181.7h0M668.5 -188.5h0M668.6 -188.7h0M670.7 -186.2h0M674.2 -183.4h0M675.4 -182.3h0M677.4 -180.2h0M668.4 -189.2h0M676.3 -181.6h0M663.7 -194.0h0M672.1 -185.5h0M673.3 -184.3h0M668.8 -188.8h0M672.6 -185.4h0M672.9 -184.7h0M667.7 -190.2h0M680.0 -178.0h0M679.1 -178.5h0M672.7 -185.7h0M672.0 -186.6h0M671.3 -187.5h0M680.9 -177.4h0M678.4 -179.9h0M675.8 -182.9h0M679.0 -179.3h0M672.3 -186.2h0M674.1 -184.3h0M668.9 -189.7h0M674.0 -184.4h0M671.1 -187.1h0M668.3 -190.4h0M679.6 -179.2h0M677.6 -181.3h0M679.5 -179.5h0M679.8 -179.1h0M687.4 -171.8h0M677.4 -181.9h0M670.4 -188.5h0M679.9 -179.5h0M672.2 -187.3h0M675.9 -183.4h0M677.9 -181.0h0M668.6 -190.4h0M673.2 -185.9h0M672.2 -186.9h0M670.3 -188.6h0M677.6 -182.3h0M674.3 -185.8h0M679.0 -181.2h0M668.9 -190.8h0M673.3 -186.9h0M672.6 -187.4h0M680.6 -179.6h0M675.6 -184.0h0M669.5 -190.7h0M674.0 -185.6h0M676.2 -183.5h0M677.7 -182.0h0M682.5 -177.7h0M666.8 -193.4h0M672.8 -187.5h0M667.9 -192.9h0M669.1 -191.5h0M672.6 -188.1h0M671.7 -189.1h0M673.4 -187.4h0M675.5 -184.9h0M671.4 -189.4h0M671.6 -189.0h0M674.4 -185.9h0M678.1 -182.8h0M678.0 -182.5h0M673.1 -187.2h0M679.1 -181.4h0M668.1 -192.8h0M680.8 -180.2h0M670.1 -191.6h0M677.3 -184.0h0M674.8 -186.5h0M668.7 -192.6h0M673.5 -187.5h0M670.0 -191.0h0M672.3 -189.1h0M674.5 -186.9h0M675.5 -185.8h0M670.9 -190.3h0M675.5 -185.5h0M677.0 -184.5h0M675.3 -186.9h0M677.3 -184.8h0M680.2 -181.7h0M674.7 -187.1h0M669.6 -192.1h0M667.5 -194.7h0M675.7 -185.9h0M676.1 -186.2h0M672.4 -189.5h0M678.3 -184.0h0M677.9 -184.2h0M672.5 -189.4h0M683.6 -178.1h0M667.8 -194.0h0M676.8 -185.9h0M670.4 -192.6h0M672.9 -189.7h0M678.7 -183.9h0M670.6 -191.8h0M670.3 -192.4h0M675.0 -187.6h0M671.7 -191.4h0M670.2 -192.2h0M667.5 -195.3h0M678.8 -184.3h0M668.7 -194.1h0M679.2 -183.5h0M673.6 -189.1h0M672.5 -191.0h0M668.7 -194.5h0M683.6 -179.8h0M672.4 -191.3h0M680.8 -182.5h0M677.0 -186.6h0M667.6 -195.6h0M673.1 -190.1h0M672.8 -190.3h0M669.3 -194.5h0M679.1 -184.5h0M673.1 -190.6h0M672.3 -191.1h0M672.0 -191.6h0M676.4 -187.5h0M670.3 -193.9h0M672.0 -191.9h0M680.3 -183.9h0M676.0 -188.4h0M675.6 -188.5h0M673.3 -191.2h0M674.2 -190.2h0M677.5 -186.3h0M673.1 -191.3h0M671.6 -192.8h0M674.1 -190.0h0M672.4 -191.8h0M676.0 -188.2h0M677.8 -187.4h0M673.0 -191.7h0M666.4 -198.8h0M672.7 -192.3h0M668.6 -196.0h0M671.8 -193.0h0M671.3 -193.4h0M668.4 -196.3h0M674.7 -189.8h0M673.7 -191.0h0M672.9 -192.1h0M674.5 -190.6h0M669.7 -195.2h0M665.2 -199.5h0M671.4 -194.4h0M670.6 -194.9h0M676.0 -189.5h0M670.5 -194.8h0M667.0 -198.7h0M673.0 -192.3h0M672.9 -193.0h0M670.3 -195.1h0M679.3 -186.4h0M667.0 -198.5h0M672.3 -193.1h0M677.5 -188.4h0M671.3 -194.5h0M685.0 -180.8h0M667.3 -199.1h0M675.6 -190.8h0M670.9 -195.2h0M680.2 -186.3h0M671.6 -194.7h0M679.2 -187.1h0M666.2 -199.9h0M667.6 -198.9h0M675.0 -191.5h0M676.2 -189.8h0M675.2 -191.4h0M668.7 -197.5h0M679.1 -187.2h0M667.7 -198.6h0M674.2 -193.1h0M668.4 -198.6h0M668.3 -199.0h0M667.0 -199.7h0M674.9 -192.1h0M670.7 -196.5h0M667.7 -199.1h0M675.8 -191.5h0M673.2 -193.5h0M677.5 -189.2h0M672.9 -193.8h0M676.5 -190.2h0M668.1 -198.9h0M673.1 -193.6h0M671.7 -196.1h0M682.3 -185.1h0M680.7 -186.9h0M677.3 -190.7h0M668.9 -198.9h0M673.0 -194.8h0M674.0 -193.3h0M671.7 -195.9h0M679.4 -188.2h0M675.2 -192.1h0M680.9 -187.1h0M671.2 -196.3h0M670.0 -198.0h0M668.0 -199.9h0M669.7 -198.8h0M678.7 -189.5h0M668.4 -200.1h0M670.8 -197.5h0M673.5 -194.9h0M667.0 -201.3h0M677.1 -191.2h0M671.4 -196.7h0M679.8 -188.6h0M670.5 -197.7h0M674.4 -194.0h0M666.2 -202.0h0M666.1 -202.0h0M676.7 -191.6h0M675.1 -193.9h0M669.6 -199.6h0M671.3 -198.1h0M680.6 -188.3h0M675.5 -193.7h0M677.7 -191.2h0M673.0 -195.9h0M669.9 -199.3h0M670.5 -198.9h0M669.6 -199.3h0M679.1 -190.3h0M671.2 -197.7h0M671.7 -197.1h0M671.5 -197.6h0M678.5 -191.4h0M677.8 -192.3h0M669.7 -200.0h0M680.1 -190.0h0M671.9 -197.7h0M676.9 -193.1h0M672.4 -197.3h0M677.1 -192.6h0M666.7 -203.0h0M680.1 -189.8h0M671.9 -197.9h0M667.5 -202.6h0M668.0 -201.8h0M677.3 -192.9h0M671.5 -199.3h0M672.1 -198.3h0M679.2 -191.4h0M666.5 -203.7h0M672.1 -198.4h0M678.2 -192.7h0M671.0 -199.6h0M669.9 -200.3h0M672.5 -197.8h0M664.2 -206.3h0M680.5 -189.7h0M674.2 -196.2h0M672.4 -198.2h0M672.0 -199.5h0M672.0 -199.4h0M668.3 -203.2h0M674.7 -196.8h0M679.3 -191.8h0M680.1 -191.2h0M677.9 -193.1h0M670.2 -201.1h0M677.3 -193.7h0M674.4 -197.0h0M677.4 -193.9h0M669.0 -202.5h0M683.7 -187.2h0M668.8 -202.2h0M668.9 -203.1h0M670.0 -201.7h0M678.6 -193.6h0M679.0 -193.1h0M672.3 -199.3h0M675.7 -196.5h0M676.2 -195.5h0M683.9 -188.1h0M672.6 -199.1h0M680.9 -191.3h0M674.0 -197.8h0M668.9 -202.8h0M673.5 -198.8h0M672.3 -199.9h0M678.5 -194.3h0M671.5 -201.4h0M678.0 -194.4h0M668.0 -204.9h0M668.4 -204.4h0M668.2 -204.3h0M676.6 -196.2h0M670.8 -201.5h0M676.0 -196.7h0M672.9 -199.5h0M671.9 -200.8h0M680.4 -192.5h0M677.4 -195.2h0M672.3 -200.3h0M673.9 -199.3h0M679.7 -193.3h0M671.0 -202.7h0M671.6 -201.6h0M677.0 -196.6h0M669.0 -204.2h0M672.8 -200.6h0M681.1 -192.3h0M676.6 -197.0h0M679.5 -194.0h0M674.7 -198.7h0M679.7 -193.5h0M672.2 -201.5h0M676.7 -196.8h0M679.8 -194.5h0M664.4 -209.9h0M678.8 -195.6h0M675.7 -198.6h0M679.8 -194.5h0M666.1 -207.9h0M669.0 -205.3h0M671.8 -202.5h0M680.5 -193.5h0M674.6 -199.5h0M671.7 -202.5h0M677.9 -195.9h0M673.4 -200.6h0M670.2 -203.6h0M673.8 -200.9h0M666.6 -208.4h0M671.8 -202.8h0M669.3 -205.6h0M671.0 -203.6h0M672.8 -201.9h0M670.0 -204.5h0M679.1 -195.4h0M667.7 -207.0h0M672.6 -201.9h0M675.2 -199.4h0M668.4 -206.5h0M673.1 -201.7h0M678.0 -196.8h0M670.9 -204.6h0M678.7 -196.7h0M667.1 -208.3h0M675.2 -200.4h0M676.4 -199.1h0M673.2 -202.6h0M680.0 -195.4h0M677.5 -197.8h0M669.5 -205.8h0M674.7 -200.6h0M674.5 -200.8h0M671.2 -204.6h0M672.3 -203.1h0M679.3 -196.4h0M673.4 -202.7h0M672.6 -203.6h0M672.9 -203.1h0M668.5 -207.9h0M673.8 -202.3h0M669.5 -206.9h0M670.2 -205.9h0M670.1 -206.2h0M677.0 -199.2h0M667.7 -208.7h0M670.0 -206.4h0M670.9 -205.4h0M671.7 -204.8h0M675.9 -201.0h0M673.1 -203.7h0M671.6 -205.6h0M675.6 -201.6h0M668.2 -208.8h0M678.6 -198.5h0M671.0 -205.8h0M668.6 -208.6h0M676.0 -201.2h0M674.4 -202.3h0M671.4 -205.4h0M669.3 -207.3h0M678.3 -198.5h0M677.9 -200.0h0M676.6 -200.7h0M667.9 -209.8h0M673.9 -203.7h0M669.9 -207.7h0M669.0 -208.7h0M670.5 -207.2h0M673.6 -203.8h0M669.0 -208.6h0M676.0 -201.5h0M677.1 -200.3h0M673.8 -204.0h0M677.3 -200.4h0M667.4 -211.2h0M672.2 -206.2h0M666.0 -212.1h0M678.0 -200.5h0M667.0 -211.3h0M674.4 -203.6h0M679.7 -198.8h0M673.0 -205.4h0M679.0 -199.2h0M677.2 -201.4h0M674.0 -204.6h0M674.1 -204.0h0M673.8 -204.7h0M677.5 -201.4h0M670.9 -207.8h0M672.7 -206.5h0M668.0 -210.9h0M672.2 -206.9h0M670.7 -208.5h0M675.2 -203.7h0M668.9 -209.9h0M672.0 -207.1h0M669.8 -208.9h0M668.5 -210.6h0M672.0 -207.4h0M673.0 -206.0h0M670.4 -208.3h0M677.5 -202.3h0M678.8 -200.8h0M671.6 -208.0h0M676.1 -204.0h0M676.9 -202.4h0M678.4 -201.3h0M676.7 -203.3h0M674.1 -205.9h0M682.2 -197.3h0M667.3 -212.6h0M671.1 -208.9h0M668.4 -211.4h0M671.7 -207.9h0M672.4 -207.8h0M674.1 -206.5h0M679.0 -201.3h0M668.7 -211.5h0M669.7 -210.4h0M661.6 -219.2h0M671.9 -208.3h0M672.3 -208.2h0M675.1 -205.0h0M672.5 -208.2h0M677.0 -203.5h0M672.2 -208.0h0M677.2 -203.5h0M671.5 -209.4h0M674.9 -206.1h0M671.6 -209.7h0M673.9 -207.5h0M674.1 -207.3h0M676.4 -205.1h0M668.6 -212.4h0M675.3 -205.9h0M668.7 -212.7h0M668.8 -212.2h0M677.2 -203.6h0M674.0 -207.1h0M672.2 -208.6h0M672.5 -209.2h0M676.7 -205.0h0M676.4 -205.8h0M674.5 -207.0h0M679.2 -202.3h0M675.9 -205.9h0M668.5 -213.0h0M668.0 -214.0h0M667.1 -215.1h0M674.8 -207.3h0M675.7 -206.4h0M678.8 -202.7h0M677.8 -204.2h0M671.9 -211.0h0M666.7 -215.6h0M672.4 -210.3h0M673.2 -209.0h0M675.0 -207.5h0M674.8 -207.5h0M671.8 -210.4h0M676.7 -206.2h0M675.7 -207.0h0M678.1 -204.3h0M674.4 -207.8h0M669.8 -213.0h0M674.1 -208.4h0M674.1 -209.1h0M672.0 -211.1h0M678.3 -205.0h0M678.8 -204.6h0M675.6 -207.7h0M672.0 -211.1h0M677.8 -205.5h0M669.4 -213.6h0M676.2 -207.3h0M666.8 -216.5h0M673.3 -210.2h0M664.4 -218.7h0M673.2 -210.3h0M677.2 -206.7h0M668.5 -215.8h0M667.0 -216.8h0M672.7 -211.1h0M671.3 -212.7h0M674.0 -209.7h0M675.0 -208.9h0M670.7 -213.2h0M671.1 -212.6h0M675.3 -208.8h0M666.9 -216.8h0M666.1 -217.7h0M672.8 -210.9h0M673.1 -211.5h0M667.5 -217.4h0M677.6 -206.9h0M674.7 -210.3h0M669.7 -215.1h0M671.2 -213.6h0M672.0 -212.4h0M670.6 -214.2h0M676.5 -208.3h0M666.2 -218.5h0M670.1 -214.7h0M670.2 -214.7h0M667.3 -218.3h0M672.5 -212.9h0M672.5 -212.6h0M667.5 -218.2h0M675.5 -209.9h0M667.3 -218.2h0M672.8 -212.7h0M672.0 -213.1h0M674.0 -211.7h0M672.1 -213.0h0M674.5 -210.8h0M671.2 -214.0h0M678.0 -208.0h0M670.9 -215.2h0M669.6 -216.2h0M670.9 -214.9h0M672.3 -214.0h0M672.0 -214.2h0M669.8 -216.3h0M674.8 -211.6h0M671.9 -213.9h0M671.9 -214.1h0M676.5 -209.6h0M674.5 -211.9h0M670.6 -216.1h0M667.7 -218.9h0M672.5 -214.6h0M678.8 -207.9h0M677.4 -209.5h0M671.8 -214.9h0M674.6 -212.4h0M676.0 -210.5h0M669.1 -217.8h0M667.7 -218.8h0M676.8 -209.7h0M673.7 -212.8h0M669.9 -217.7h0M673.2 -214.5h0M673.3 -213.9h0M672.7 -214.6h0M671.5 -215.7h0M667.2 -220.2h0M674.9 -212.4h0M674.5 -212.8h0M665.0 -222.8h0M666.0 -221.2h0M677.2 -210.5h0M672.6 -215.0h0M674.3 -213.6h0M669.2 -218.9h0M668.1 -220.3h0M672.6 -215.5h0M671.0 -217.3h0M670.2 -217.9h0M676.2 -212.0h0M669.8 -218.6h0M671.4 -217.2h0M678.9 -209.5h0M676.9 -211.6h0M674.9 -213.4h0M670.5 -218.5h0M668.4 -220.8h0M671.4 -217.7h0M671.0 -217.7h0M670.0 -219.1h0M670.4 -218.7h0M676.3 -212.8h0M675.6 -213.5h0M672.6 -216.6h0M673.7 -215.5h0M670.6 -218.5h0M669.9 -219.8h0M673.6 -216.2h0M671.0 -218.6h0M677.8 -211.9h0M675.2 -214.1h0M668.7 -221.0h0M670.8 -218.9h0M673.3 -216.6h0M676.9 -212.9h0M670.6 -219.2h0M676.5 -212.8h0M676.5 -213.3h0M675.4 -214.7h0M669.4 -221.0h0M675.1 -215.4h0M668.6 -221.6h0M674.0 -216.6h0M674.3 -215.8h0M667.5 -222.9h0M673.4 -217.1h0M673.4 -217.3h0M673.7 -216.6h0M674.5 -215.7h0M674.3 -216.7h0M670.9 -220.3h0M668.8 -222.2h0M668.9 -221.9h0M670.4 -220.4h0M674.8 -216.1h0M667.5 -223.2h0M666.4 -224.4h0M676.3 -214.5h0M672.8 -218.2h0M676.0 -215.4h0M670.6 -221.4h0M668.2 -223.9h0M674.4 -217.2h0M674.6 -216.9h0M672.8 -219.0h0M673.8 -217.8h0M672.5 -218.9h0M674.0 -218.1h0M674.6 -217.5h0M668.3 -223.2h0M674.1 -217.4h0M668.8 -223.9h0M669.5 -222.6h0M672.1 -220.2h0M669.5 -222.8h0M671.6 -221.1h0M673.8 -218.7h0M669.6 -222.5h0M667.5 -224.8h0M676.3 -216.3h0M672.7 -219.4h0M672.5 -220.1h0M670.7 -222.7h0M668.6 -224.5h0M670.6 -222.5h0M670.2 -222.7h0M667.7 -225.6h0M671.1 -221.8h0M672.4 -220.7h0M672.7 -220.7h0M669.8 -223.6h0M673.6 -219.2h0M675.8 -217.6h0M669.3 -224.8h0M673.6 -220.4h0M668.4 -225.5h0M668.6 -225.2h0M675.6 -218.0h0M668.9 -225.3h0M671.4 -222.4h0M672.3 -221.6h0M676.6 -217.1h0M671.1 -222.6h0M674.4 -219.4h0M671.6 -222.7h0M669.5 -225.3h0M669.5 -224.8h0M675.2 -219.6h0M675.3 -219.5h0M674.1 -220.4h0M670.7 -224.0h0M669.2 -225.1h0M672.0 -222.2h0M676.0 -218.5h0M670.0 -224.5h0M670.1 -224.9h0M671.2 -224.0h0M671.6 -223.4h0M669.3 -226.1h0M668.9 -226.5h0M672.0 -223.5h0M670.6 -224.9h0M669.8 -225.5h0M671.7 -223.6h0M671.1 -224.0h0M671.9 -223.4h0M670.0 -226.1h0M668.8 -227.0h0M670.6 -225.6h0M668.9 -227.0h0M669.1 -226.8h0M668.2 -227.4h0M672.3 -224.0h0M673.1 -222.8h0M672.2 -223.6h0M671.4 -224.4h0M672.7 -224.0h0M673.1 -223.3h0M669.3 -227.7h0M669.8 -226.6h0M674.0 -222.8h0M670.3 -226.5h0M674.9 -221.5h0M672.8 -223.7h0M672.6 -223.8h0M673.8 -222.6h0M673.2 -223.7h0M673.9 -223.7h0M667.5 -230.2h0M668.9 -228.4h0M670.5 -226.7h0M671.3 -226.3h0M671.3 -226.4h0M671.2 -226.0h0M670.5 -226.6h0M671.0 -226.5h0M672.6 -224.9h0M672.3 -225.8h0M671.9 -226.5h0M668.0 -230.4h0M671.1 -226.7h0M670.8 -227.1h0M673.7 -224.2h0M663.3 -234.6h0M671.2 -226.8h0M671.8 -226.2h0M672.3 -226.0h0M672.0 -226.7h0M669.3 -229.6h0M666.1 -232.9h0M668.9 -229.8h0M674.5 -224.5h0M673.8 -225.1h0M670.9 -228.0h0M669.5 -229.0h0M666.5 -232.1h0M667.5 -231.5h0M673.1 -226.2h0M669.8 -229.5h0M673.8 -225.8h0M669.3 -230.4h0M669.7 -229.5h0M668.5 -231.1h0M670.8 -228.8h0M670.8 -228.9h0M671.0 -228.5h0M667.5 -232.6h0M670.5 -229.9h0M668.6 -231.7h0M674.1 -226.3h0M669.0 -231.2h0M671.7 -228.9h0M667.6 -232.6h0M670.5 -229.5h0M672.7 -227.2h0M669.7 -231.2h0M671.9 -229.2h0M669.0 -231.9h0M672.1 -228.5h0M669.3 -231.3h0M663.2 -237.5h0M670.7 -229.9h0M666.0 -234.7h0M668.8 -232.1h0M673.1 -228.2h0M673.7 -228.3h0M668.0 -233.4h0M673.3 -228.2h0M672.1 -229.5h0M670.0 -231.4h0M667.4 -234.2h0M670.5 -230.9h0M668.6 -233.4h0M670.6 -231.8h0M670.0 -232.7h0M670.4 -231.9h0M668.7 -233.3h0M671.8 -230.6h0M673.4 -229.3h0M668.2 -234.4h0M668.7 -233.9h0M671.8 -230.2h0M665.8 -237.2h0M670.0 -233.0h0M671.9 -231.1h0M670.2 -232.7h0M673.3 -229.7h0M672.6 -230.5h0M668.8 -234.1h0M670.5 -232.4h0M669.5 -233.8h0M673.1 -230.6h0M668.8 -235.0h0M669.1 -234.9h0M670.7 -232.9h0M670.7 -233.0h0M670.9 -232.9h0M673.1 -230.5h0M671.9 -231.9h0M671.6 -233.1h0M671.4 -233.4h0M673.0 -231.2h0M669.1 -235.0h0M670.3 -234.0h0M669.1 -235.6h0M671.8 -232.3h0M670.0 -234.3h0M668.3 -237.0h0M670.1 -235.3h0M669.9 -235.6h0M668.2 -237.0h0M671.6 -233.5h0M674.6 -230.3h0M670.1 -235.0h0M669.2 -236.0h0M671.0 -233.8h0M671.2 -234.4h0M670.2 -235.3h0M667.8 -237.9h0M668.2 -237.9h0M669.0 -237.0h0M670.2 -235.3h0M672.7 -233.4h0M672.5 -233.6h0M670.7 -235.8h0M670.2 -236.2h0M670.3 -236.6h0M670.9 -235.7h0M668.0 -238.3h0M669.1 -237.2h0M672.3 -234.4h0M672.6 -234.0h0M669.4 -238.1h0M669.0 -238.0h0M669.9 -237.1h0M669.4 -237.8h0M668.8 -238.4h0M671.3 -235.6h0M669.3 -238.2h0M668.0 -240.2h0M670.1 -237.7h0M668.8 -239.0h0M672.4 -235.7h0M670.4 -237.7h0M669.1 -239.1h0M672.4 -235.7h0M672.1 -236.6h0M672.5 -235.9h0M671.0 -237.5h0M669.5 -239.5h0M669.1 -239.6h0M668.5 -240.1h0M670.2 -238.4h0M669.8 -239.8h0M668.9 -240.4h0M670.8 -238.9h0M669.2 -240.1h0M671.1 -238.6h0M670.4 -238.7h0M669.2 -240.5h0M669.5 -240.4h0M670.6 -239.2h0M666.8 -243.1h0M670.9 -239.1h0M672.2 -238.1h0M670.5 -239.7h0M671.4 -238.7h0M669.6 -241.1h0M670.8 -240.1h0M669.3 -241.6h0M669.8 -241.0h0M671.3 -239.6h0M668.9 -241.9h0M669.9 -240.8h0M671.0 -240.5h0M669.2 -242.6h0M669.4 -241.9h0M671.5 -240.1h0M670.0 -241.5h0M671.9 -239.7h0M671.3 -241.0h0M669.4 -242.6h0M670.7 -241.8h0M672.9 -239.4h0M672.0 -240.1h0M670.7 -241.5h0M671.2 -241.5h0M670.0 -242.7h0M670.8 -241.9h0M669.1 -243.5h0M670.6 -242.1h0M671.9 -241.9h0M672.3 -241.2h0M669.7 -244.1h0M671.1 -242.7h0M670.8 -243.0h0M671.5 -242.7h0M670.9 -243.4h0M671.8 -242.7h0M671.2 -242.8h0M671.1 -243.9h0M671.7 -243.2h0M671.2 -244.1h0M670.8 -244.4h0M670.9 -244.3h0M672.7 -243.0h0M671.4 -244.6h0M670.9 -244.7h0M671.5 -244.0h0M671.2 -244.7h0M672.0 -244.7h0M671.5 -245.2h0M671.5 -244.9h0M671.4 -244.8h0M671.0 -246.2h0M671.2 -246.0h0M671.1 -245.9h0M658.6 -147.8h0M663.0 -144.7h0M660.3 -159.9h0M684.0 -150.1h0M662.9 -181.7h0M664.1 -171.3h0M683.7 -162.0h0M686.3 -185.4h0M688.9 -201.2h0M679.4 -83.7h0M663.2 -114.3h0M660.5 -145.2h0M682.0 -194.1h0M673.2 -78.6h0M680.9 -84.9h0M681.7 -183.8h0M681.3 -201.2h0M673.5 -118.4h0M662.2 -195.5h0M601.7 -199.2h0" stroke="#0a34ff" stroke-width="2.4" stroke-linecap="square" fill="none"/><text x="518.2" y="288.5" font-family='"Liberation Serif",serif' font-size="11.2" text-anchor="start" >Stress</text><path d="M497.8 453.3L675.6 275.7" stroke="#000" stroke-width="1.15"/><rect x="497.8" y="275.7" width="177.80" height="177.60" fill="none" stroke="#000" stroke-width="1.15"/><text x="490.6" y="456.60" font-family='"Liberation Serif",serif' font-size="11.4" text-anchor="end" textLength="13.68" lengthAdjust="spacingAndGlyphs">-15</text><text x="498.20" y="468.2" font-family='"Liberation Serif",serif' font-size="11.4" text-anchor="middle" textLength="13.68" lengthAdjust="spacingAndGlyphs">-15</text><text x="490.6" y="427.00" font-family='"Liberation Serif",serif' font-size="11.4" text-anchor="end" textLength="13.68" lengthAdjust="spacingAndGlyphs">-10</text><text x="527.83" y="468.2" font-family='"Liberation Serif",serif' font-size="11.4" text-anchor="middle" textLength="13.68" lengthAdjust="spacingAndGlyphs">-10</text><text x="490.6" y="397.40" font-family='"Liberation Serif",serif' font-size="11.4" text-anchor="end" textLength="8.55" lengthAdjust="spacingAndGlyphs">-5</text><text x="557.47" y="468.2" font-family='"Liberation Serif",serif' font-size="11.4" text-anchor="middle" textLength="8.55" lengthAdjust="spacingAndGlyphs">-5</text><text x="490.6" y="367.80" font-family='"Liberation Serif",serif' font-size="11.4" text-anchor="end" textLength="5.13" lengthAdjust="spacingAndGlyphs">0</text><text x="587.10" y="468.2" font-family='"Liberation Serif",serif' font-size="11.4" text-anchor="middle" textLength="5.13" lengthAdjust="spacingAndGlyphs">0</text><text x="490.6" y="338.20" font-family='"Liberation Serif",serif' font-size="11.4" text-anchor="end" textLength="5.13" lengthAdjust="spacingAndGlyphs">5</text><text x="616.73" y="468.2" font-family='"Liberation Serif",serif' font-size="11.4" text-anchor="middle" textLength="5.13" lengthAdjust="spacingAndGlyphs">5</text><text x="490.6" y="308.60" font-family='"Liberation Serif",serif' font-size="11.4" text-anchor="end" textLength="10.26" lengthAdjust="spacingAndGlyphs">10</text><text x="646.37" y="468.2" font-family='"Liberation Serif",serif' font-size="11.4" text-anchor="middle" textLength="10.26" lengthAdjust="spacingAndGlyphs">10</text><text x="490.6" y="279.00" font-family='"Liberation Serif",serif' font-size="11.4" text-anchor="end" textLength="10.26" lengthAdjust="spacingAndGlyphs">15</text><text x="676.00" y="468.2" font-family='"Liberation Serif",serif' font-size="11.4" text-anchor="middle" textLength="10.26" lengthAdjust="spacingAndGlyphs">15</text><text id="A1x" x="69.00" y="226.00" font-family='"Liberation Sans",sans-serif' font-size="16.80" textLength="116.80" lengthAdjust="spacingAndGlyphs"># Configurations</text><text id="A2x" x="298.40" y="226.00" font-family='"Liberation Sans",sans-serif' font-size="16.80" textLength="117.00" lengthAdjust="spacingAndGlyphs"># Configurations</text><text id="A3x" x="528.20" y="226.00" font-family='"Liberation Sans",sans-serif' font-size="16.80" textLength="116.61" lengthAdjust="spacingAndGlyphs"># Configurations</text><text id="A1y" transform="translate(14.10 176.80) rotate(-90)" font-family='"Liberation Sans",sans-serif' font-size="17.20" textLength="150.63" lengthAdjust="spacingAndGlyphs">MAE (<tspan font-style="italic">E</tspan>) (meV/atom)</text><text id="A2y" transform="translate(237.80 157.80) rotate(-90)" font-family='"Liberation Sans",sans-serif' font-size="17.20" textLength="123.63" lengthAdjust="spacingAndGlyphs">MAE (<tspan font-style="italic">F</tspan>) (meV/Å)</text><text id="A3y" transform="translate(466.10 148.60) rotate(-90)" font-family='"Liberation Sans",sans-serif' font-size="17.20" textLength="108.04" lengthAdjust="spacingAndGlyphs">MAE (<tspan font-style="italic">σ</tspan>) (MPa)</text><text id="B1t" x="66.00" y="258.10" font-family='"Liberation Sans",sans-serif' font-size="12.00" textLength="139.21" lengthAdjust="spacingAndGlyphs">MAE (<tspan font-style="italic">E</tspan>) = 4.21 meV/atom</text><text id="B2t" x="296.80" y="258.10" font-family='"Liberation Sans",sans-serif' font-size="12.00" textLength="128.21" lengthAdjust="spacingAndGlyphs">MAE (<tspan font-style="italic">F</tspan>) = 198.1 meV/Å</text><text id="B3t" x="524.00" y="258.10" font-family='"Liberation Sans",sans-serif' font-size="12.00" textLength="115.41" lengthAdjust="spacingAndGlyphs">MAE (<tspan font-style="italic">σ</tspan>) = 416.2 MPa</text><text id="B1x" x="62.00" y="486.40" font-family='"Liberation Sans",sans-serif' font-size="15.80" textLength="137.81" lengthAdjust="spacingAndGlyphs"><tspan font-style="italic">E</tspan><tspan font-style="italic" font-size="10.6" dy="1.1">Buck+Coul</tspan><tspan dy="-1.1"> (eV/atom)</tspan></text><text id="B2x" x="299.80" y="486.40" font-family='"Liberation Sans",sans-serif' font-size="15.80" textLength="112.41" lengthAdjust="spacingAndGlyphs"><tspan font-style="italic">F</tspan><tspan font-style="italic" font-size="10.6" dy="1.1">Buck+Coul</tspan><tspan dy="-1.1"> (eV/Å)</tspan></text><text id="B3x" x="525.40" y="486.40" font-family='"Liberation Sans",sans-serif' font-size="15.80" textLength="110.03" lengthAdjust="spacingAndGlyphs"><tspan font-style="italic">σ</tspan><tspan font-style="italic" font-size="10.6" dy="1.1">Buck+Coul</tspan><tspan dy="-1.1"> (GPa)</tspan></text><text id="B1y" transform="translate(14.70 418.20) rotate(-90)" font-family='"Liberation Sans",sans-serif' font-size="16.20" textLength="108.42" lengthAdjust="spacingAndGlyphs"><tspan font-style="italic">E</tspan><tspan font-style="italic" font-size="10.6" dy="1.3">NNP</tspan><tspan dy="-1.3"> (eV/atom)</tspan></text><text id="B2y" transform="translate(251.30 405.40) rotate(-90)" font-family='"Liberation Sans",sans-serif' font-size="16.20" textLength="81.81" lengthAdjust="spacingAndGlyphs"><tspan font-style="italic">F</tspan><tspan font-style="italic" font-size="10.6" dy="1.3">NNP</tspan><tspan dy="-1.3"> (eV/Å)</tspan></text><text id="B3y" transform="translate(471.00 398.40) rotate(-90)" font-family='"Liberation Sans",sans-serif' font-size="16.20" textLength="73.41" lengthAdjust="spacingAndGlyphs"><tspan font-style="italic">σ</tspan><tspan font-style="italic" font-size="10.6" dy="1.3">NNP</tspan><tspan dy="-1.3"> (GPa)</tspan></text><text id="Loss" x="57.80" y="46.50" font-family='"Liberation Sans",sans-serif' font-size="17.00" textLength="147.21" lengthAdjust="spacingAndGlyphs">Loss = <tspan font-style="italic">Σ</tspan>(<tspan font-style="italic">E</tspan><tspan font-size="11" dy="1.6">True</tspan><tspan dy="-1.6"> - </tspan><tspan font-style="italic">E</tspan><tspan font-size="11" dy="1.6">tot</tspan><tspan dy="-1.6">)</tspan><tspan font-size="11.5" dy="-4.6">2</tspan></text><text x="-0.8" y="16.6" font-family='"Liberation Sans",sans-serif' font-size="32" textLength="16.0" lengthAdjust="spacingAndGlyphs">a</text><text x="1.3" y="261.9" font-family='"Liberation Sans",sans-serif' font-size="31.6">b</text></svg></body></html>
